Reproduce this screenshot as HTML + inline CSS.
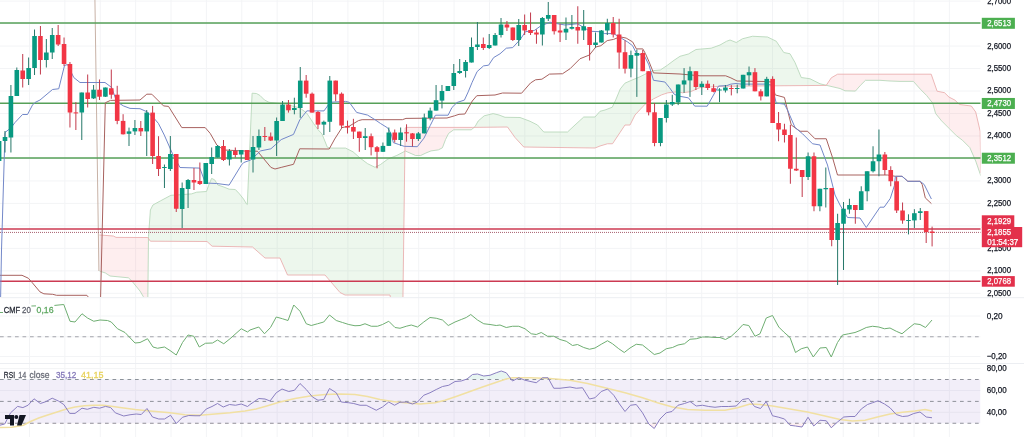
<!DOCTYPE html><html><head><meta charset="utf-8"><title>Chart</title><style>html,body{margin:0;padding:0;background:#fff;overflow:hidden}</style></head><body><svg width="1024" height="437" viewBox="0 0 1024 437" style="display:block">
<defs><clipPath id="cm"><rect x="0" y="0" width="980.50" height="297.00"/></clipPath>
<clipPath id="cc"><rect x="0" y="297.5" width="980.50" height="66"/></clipPath>
<clipPath id="cr"><rect x="0" y="364" width="980.50" height="73"/></clipPath></defs>
<rect width="1024" height="437" fill="#fff"/>
<path d="M29.50 0V437 M64.88 0V437 M100.26 0V437 M135.64 0V437 M171.02 0V437 M206.40 0V437 M241.78 0V437 M277.16 0V437 M312.54 0V437 M347.92 0V437 M383.30 0V437 M418.68 0V437 M454.06 0V437 M489.44 0V437 M524.82 0V437 M560.20 0V437 M595.58 0V437 M630.96 0V437 M666.34 0V437 M701.72 0V437 M737.10 0V437 M772.48 0V437 M807.86 0V437 M843.24 0V437 M878.62 0V437 M914.00 0V437 M949.38 0V437 M0 1.10H980.5 M0 23.58H980.5 M0 46.06H980.5 M0 68.54H980.5 M0 91.02H980.5 M0 113.50H980.5 M0 135.98H980.5 M0 158.46H980.5 M0 180.94H980.5 M0 203.42H980.5 M0 225.90H980.5 M0 248.38H980.5 M0 270.86H980.5 M0 293.34H980.5 M0 316.00H980.5 M0 336.75H980.5 M0 356.50H980.5 M0 368.60H980.5 M0 390.50H980.5 M0 412.30H980.5" stroke="#f3f4f6" stroke-width="1" fill="none"/>
<g clip-path="url(#cm)">
<polygon points="99.50,271.00 99.75,271.08 100.00,271.17 100.25,271.25 100.50,271.34 100.75,271.42 101.00,271.51 101.25,271.59 101.50,271.68 101.75,271.76 102.00,271.85 102.25,271.93 102.50,272.02 102.75,272.10 103.00,272.19 103.25,272.27 103.50,272.36 103.75,272.44 104.00,272.53 104.25,272.61 104.50,272.69 104.75,272.78 105.00,272.86 105.25,272.95 105.50,273.07 105.75,273.23 106.00,273.39 106.25,273.55 106.50,273.72 106.75,273.88 107.00,274.04 107.25,274.21 107.50,274.37 107.75,274.53 108.00,274.70 108.25,274.86 108.50,275.02 108.75,275.18 109.00,275.35 109.25,275.51 109.50,275.67 109.75,275.84 110.00,276.00 110.25,276.02 110.50,276.05 110.75,276.07 111.00,276.10 111.25,276.12 111.50,276.15 111.75,276.17 112.00,276.20 112.25,276.22 112.50,276.24 112.75,276.27 113.00,276.29 113.25,276.32 113.50,276.34 113.75,276.37 114.00,276.39 114.25,276.42 114.50,276.44 114.75,276.46 115.00,276.49 115.25,276.51 115.50,276.54 115.75,276.56 116.00,276.59 116.25,276.61 116.50,276.64 116.75,276.66 117.00,276.68 117.25,276.71 117.50,276.73 117.75,276.76 118.00,276.78 118.25,276.81 118.50,276.83 118.75,276.86 119.00,276.88 119.25,276.90 119.50,276.93 119.75,276.95 120.00,276.98 120.25,277.00 120.50,277.03 120.75,277.05 121.00,277.08 121.25,277.10 121.50,277.12 121.75,277.15 122.00,277.17 122.25,277.20 122.50,277.22 122.75,277.25 123.00,277.27 123.25,277.30 123.50,277.32 123.75,277.35 124.00,277.37 124.25,277.39 124.50,277.42 124.75,277.44 125.00,277.47 125.25,277.49 125.50,277.52 125.75,277.54 126.00,277.57 126.25,277.59 126.50,277.61 126.75,277.64 127.00,277.66 127.25,277.69 127.50,277.71 127.75,277.74 128.00,277.76 128.25,277.79 128.50,277.89 128.75,278.13 129.00,278.36 129.25,278.60 129.50,278.84 129.75,279.07 130.00,279.31 130.25,279.54 130.50,279.78 130.75,280.01 131.00,280.25 131.25,280.48 131.50,280.72 131.75,280.95 132.00,281.24 132.25,281.55 132.50,281.85 132.75,282.16 133.00,282.46 133.25,282.77 133.50,283.07 133.75,283.38 134.00,283.68 134.25,283.99 134.50,284.29 134.75,284.60 135.00,284.90 135.25,285.21 135.50,285.51 135.75,285.82 136.00,286.12 136.25,286.43 136.50,286.73 136.75,287.04 137.00,287.34 137.25,287.65 137.50,287.95 137.75,288.26 138.00,288.56 138.25,288.87 138.50,289.17 138.75,289.48 139.00,289.78 139.25,290.09 139.50,290.39 139.75,290.70 140.00,291.00 140.25,291.42 140.50,291.84 140.75,292.27 141.00,292.69 141.25,293.11 141.50,293.53 141.75,293.95 142.00,294.38 142.25,294.80 142.50,295.22 142.75,295.64 143.00,296.06 143.25,296.50 143.50,297.00 143.75,297.50 144.00,298.00 144.25,298.50 144.50,299.00 144.75,299.50 145.00,300.00 145.25,303.00 145.50,306.00 145.75,309.00 146.00,312.00 146.25,315.00 146.50,318.00 146.75,321.00 147.00,324.00 147.25,327.00 147.50,330.00 147.75,306.62 148.00,283.25 148.25,259.88 148.50,236.50 148.50,238.60 148.25,238.25 148.00,237.91 147.75,237.57 147.50,237.50 147.25,237.50 147.00,237.50 146.75,237.50 146.50,237.50 146.25,237.50 146.00,237.49 145.75,237.49 145.50,237.49 145.25,237.49 145.00,237.49 144.75,237.49 144.50,237.49 144.25,237.49 144.00,237.49 143.75,237.49 143.50,237.49 143.25,237.49 143.00,237.49 142.75,237.48 142.50,237.48 142.25,237.48 142.00,237.48 141.75,237.48 141.50,237.48 141.25,237.48 141.00,237.48 140.75,237.48 140.50,237.48 140.25,237.48 140.00,237.48 139.75,237.47 139.50,237.47 139.25,237.47 139.00,237.47 138.75,237.47 138.50,237.47 138.25,237.47 138.00,237.47 137.75,237.47 137.50,237.47 137.25,237.47 137.00,237.47 136.75,237.47 136.50,237.46 136.25,237.46 136.00,237.46 135.75,237.46 135.50,237.46 135.25,237.46 135.00,237.46 134.75,237.46 134.50,237.46 134.25,237.46 134.00,237.46 133.75,237.46 133.50,237.46 133.25,237.45 133.00,237.45 132.75,237.45 132.50,237.45 132.25,237.45 132.00,237.45 131.75,237.45 131.50,237.45 131.25,237.45 131.00,237.45 130.75,237.45 130.50,237.45 130.25,237.44 130.00,237.44 129.75,237.44 129.50,237.44 129.25,237.44 129.00,237.44 128.75,237.44 128.50,237.44 128.25,237.44 128.00,237.44 127.75,237.44 127.50,237.44 127.25,237.44 127.00,237.43 126.75,237.43 126.50,237.43 126.25,237.43 126.00,237.43 125.75,237.43 125.50,237.43 125.25,237.43 125.00,237.43 124.75,237.43 124.50,237.43 124.25,237.43 124.00,237.43 123.75,237.42 123.50,237.42 123.25,237.42 123.00,237.42 122.75,237.42 122.50,237.42 122.25,237.42 122.00,237.42 121.75,237.42 121.50,237.42 121.25,237.42 121.00,237.42 120.75,237.41 120.50,237.41 120.25,237.41 120.00,237.41 119.75,237.41 119.50,237.41 119.25,237.41 119.00,237.41 118.75,237.41 118.50,237.41 118.25,237.41 118.00,237.41 117.75,237.41 117.50,237.40 117.25,237.40 117.00,237.40 116.75,237.40 116.50,237.40 116.25,237.40 116.00,237.40 115.75,237.27 115.50,237.13 115.25,237.00 115.00,236.86 114.75,236.73 114.50,236.59 114.25,236.46 114.00,236.32 113.75,236.19 113.50,236.05 113.25,235.99 113.00,235.97 112.75,235.95 112.50,235.94 112.25,235.92 112.00,235.90 111.75,235.88 111.50,235.86 111.25,235.85 111.00,235.83 110.75,235.81 110.50,235.79 110.25,235.77 110.00,235.76 109.75,235.74 109.50,235.72 109.25,235.70 109.00,235.68 108.75,235.67 108.50,235.65 108.25,235.63 108.00,235.61 107.75,235.59 107.50,235.58 107.25,235.56 107.00,235.54 106.75,235.52 106.50,235.50 106.25,235.49 106.00,235.47 105.75,235.45 105.50,235.43 105.25,235.41 105.00,235.40 104.75,235.38 104.50,235.36 104.25,235.34 104.00,235.32 103.75,235.31 103.50,235.29 103.25,235.27 103.00,235.25 102.75,235.23 102.50,235.22 102.25,235.20 102.00,235.18 101.75,235.16 101.50,235.14 101.25,235.13 101.00,235.11 100.75,235.09 100.50,235.07 100.25,235.05 100.00,235.04 99.75,235.02 99.50,235.00" fill="rgba(242,54,69,0.085)"/>
<polygon points="148.50,236.50 148.75,233.01 149.00,229.53 149.25,226.04 149.50,222.55 149.75,219.07 150.00,215.58 150.25,212.09 150.50,209.80 150.75,209.30 151.00,208.80 151.25,208.30 151.50,207.80 151.75,207.30 152.00,206.80 152.25,206.30 152.50,205.80 152.75,205.30 153.00,204.95 153.25,204.81 153.50,204.67 153.75,204.54 154.00,204.40 154.25,204.26 154.50,204.13 154.75,203.99 155.00,203.85 155.25,203.72 155.50,203.58 155.75,203.45 156.00,203.31 156.25,203.17 156.50,203.04 156.75,202.90 157.00,202.76 157.25,202.63 157.50,202.49 157.75,202.35 158.00,202.22 158.25,202.08 158.50,201.95 158.75,201.81 159.00,201.67 159.25,201.54 159.50,201.40 159.75,201.26 160.00,201.13 160.25,200.99 160.50,200.85 160.75,200.72 161.00,200.59 161.25,200.45 161.50,200.32 161.75,200.19 162.00,200.05 162.25,199.92 162.50,199.79 162.75,199.65 163.00,199.52 163.25,199.38 163.50,199.25 163.75,199.12 164.00,198.98 164.25,198.85 164.50,198.72 164.75,198.58 165.00,198.45 165.25,198.32 165.50,198.18 165.75,198.05 166.00,197.92 166.25,197.78 166.50,197.65 166.75,197.52 167.00,197.38 167.25,197.25 167.50,197.12 167.75,196.98 168.00,196.85 168.25,196.72 168.50,196.58 168.75,196.45 169.00,196.31 169.25,196.18 169.50,196.05 169.75,195.91 170.00,195.78 170.25,195.65 170.50,195.51 170.75,195.38 171.00,195.29 171.25,195.28 171.50,195.27 171.75,195.25 172.00,195.24 172.25,195.22 172.50,195.21 172.75,195.19 173.00,195.18 173.25,195.16 173.50,195.15 173.75,195.13 174.00,195.12 174.25,195.10 174.50,195.09 174.75,195.08 175.00,195.06 175.25,195.05 175.50,195.03 175.75,195.02 176.00,195.00 176.25,194.99 176.50,194.97 176.75,194.96 177.00,194.94 177.25,194.93 177.50,194.92 177.75,194.90 178.00,194.89 178.25,194.87 178.50,194.86 178.75,194.84 179.00,194.83 179.25,194.81 179.50,194.80 179.75,194.78 180.00,194.77 180.25,194.76 180.50,194.74 180.75,194.73 181.00,194.71 181.25,194.70 181.50,194.68 181.75,194.66 182.00,194.64 182.25,194.62 182.50,194.60 182.75,194.58 183.00,194.56 183.25,194.54 183.50,194.52 183.75,194.50 184.00,194.48 184.25,194.46 184.50,194.44 184.75,194.42 185.00,194.40 185.25,194.39 185.50,194.37 185.75,194.35 186.00,194.33 186.25,194.31 186.50,194.29 186.75,194.27 187.00,194.25 187.25,194.23 187.50,194.21 187.75,194.19 188.00,194.17 188.25,194.15 188.50,194.13 188.75,194.11 189.00,194.09 189.25,194.07 189.50,194.06 189.75,194.04 190.00,194.02 190.25,194.00 190.50,193.98 190.75,193.96 191.00,193.94 191.25,193.92 191.50,193.90 191.75,193.82 192.00,193.74 192.25,193.65 192.50,193.57 192.75,193.49 193.00,193.41 193.25,193.33 193.50,193.25 193.75,193.16 194.00,193.08 194.25,193.00 194.50,192.92 194.75,192.84 195.00,192.76 195.25,192.67 195.50,192.59 195.75,192.51 196.00,192.43 196.25,192.35 196.50,192.27 196.75,192.20 197.00,192.18 197.25,192.16 197.50,192.14 197.75,192.12 198.00,192.11 198.25,192.09 198.50,192.07 198.75,192.05 199.00,192.04 199.25,192.02 199.50,192.00 199.75,191.98 200.00,191.96 200.25,191.95 200.50,191.93 200.75,191.91 201.00,191.89 201.25,191.88 201.50,191.86 201.75,191.84 202.00,191.82 202.25,191.80 202.50,191.79 202.75,191.77 203.00,191.75 203.25,191.73 203.50,191.71 203.75,191.70 204.00,191.68 204.25,191.66 204.50,191.64 204.75,191.62 205.00,191.61 205.25,191.59 205.50,191.57 205.75,191.55 206.00,191.54 206.25,191.52 206.50,191.50 206.75,190.76 207.00,190.03 207.25,189.29 207.50,188.55 207.75,187.81 208.00,187.07 208.25,186.34 208.50,185.60 208.75,185.02 209.00,184.44 209.25,183.86 209.50,183.28 209.75,182.70 210.00,182.12 210.25,181.54 210.50,180.95 210.75,180.37 211.00,179.79 211.25,179.21 211.50,178.63 211.75,178.47 212.00,178.59 212.25,178.71 212.50,178.84 212.75,178.96 213.00,179.08 213.25,179.20 213.50,179.32 213.75,179.44 214.00,179.56 214.25,179.68 214.50,179.80 214.75,179.98 215.00,180.39 215.25,180.80 215.50,181.22 215.75,181.63 216.00,182.04 216.25,182.45 216.50,182.86 216.75,183.27 217.00,183.68 217.25,184.10 217.50,184.51 217.75,184.92 218.00,185.07 218.25,185.15 218.50,185.24 218.75,185.32 219.00,185.41 219.25,185.49 219.50,185.58 219.75,185.66 220.00,185.75 220.25,185.83 220.50,185.91 220.75,186.00 221.00,186.08 221.25,186.17 221.50,186.25 221.75,186.34 222.00,186.42 222.25,186.51 222.50,186.59 222.75,186.68 223.00,186.76 223.25,186.85 223.50,186.93 223.75,187.02 224.00,187.10 224.25,187.20 224.50,187.31 224.75,187.41 225.00,187.51 225.25,187.61 225.50,187.72 225.75,187.82 226.00,187.92 226.25,188.03 226.50,188.13 226.75,188.23 227.00,188.34 227.25,188.44 227.50,188.54 227.75,188.64 228.00,188.75 228.25,188.85 228.50,188.95 228.75,189.06 229.00,189.16 229.25,189.21 229.50,189.22 229.75,189.23 230.00,189.24 230.25,189.26 230.50,189.27 230.75,189.28 231.00,189.29 231.25,189.30 231.50,189.32 231.75,189.33 232.00,189.34 232.25,189.35 232.50,189.36 232.75,189.38 233.00,189.39 233.25,189.40 233.50,189.41 233.75,189.42 234.00,189.44 234.25,189.45 234.50,189.46 234.75,189.47 235.00,189.49 235.25,189.50 235.50,189.71 235.75,189.97 236.00,190.23 236.25,190.50 236.50,190.76 236.75,191.02 237.00,191.28 237.25,191.55 237.50,191.81 237.75,192.07 238.00,192.33 238.25,192.59 238.50,192.86 238.75,193.12 239.00,193.38 239.25,193.64 239.50,193.93 239.75,194.24 240.00,194.56 240.25,194.88 240.50,195.20 240.75,195.51 241.00,195.83 241.25,196.15 241.50,196.46 241.75,196.78 242.00,197.10 242.25,197.41 242.50,197.73 242.75,198.05 243.00,198.37 243.25,198.68 243.50,199.00 243.75,199.41 244.00,199.82 244.25,200.23 244.50,200.65 244.75,201.06 245.00,201.47 245.25,201.88 245.50,202.29 245.75,202.70 246.00,203.11 246.25,203.52 246.50,203.94 246.75,204.19 247.00,204.33 247.25,204.47 247.50,199.86 247.75,194.07 248.00,188.27 248.25,182.47 248.50,176.68 248.75,170.88 249.00,165.08 249.25,159.28 249.50,153.49 249.75,147.69 250.00,141.89 250.25,136.10 250.50,130.30 250.75,124.50 251.00,118.71 251.25,112.91 251.50,107.11 251.75,101.32 252.00,95.52 252.25,93.21 252.50,93.23 252.75,93.25 253.00,93.26 253.25,93.28 253.50,93.30 253.75,93.32 254.00,93.33 254.25,93.35 254.50,93.37 254.75,93.38 255.00,93.40 255.25,93.42 255.50,93.44 255.75,93.45 256.00,93.47 256.25,93.49 256.50,93.55 256.75,93.69 257.00,93.83 257.25,93.96 257.50,94.10 257.75,94.23 258.00,94.37 258.25,94.50 258.50,94.64 258.75,94.78 259.00,94.91 259.25,95.05 259.50,95.18 259.75,95.32 260.00,95.50 260.25,95.75 260.50,96.00 260.75,96.25 261.00,96.50 261.25,96.75 261.50,97.00 261.75,97.25 262.00,97.50 262.25,97.75 262.50,98.00 262.75,98.25 263.00,98.50 263.25,98.75 263.50,99.00 263.75,99.25 264.00,99.50 264.25,99.75 264.50,100.00 264.75,100.13 265.00,100.26 265.25,100.38 265.50,100.51 265.75,100.64 266.00,100.77 266.25,100.89 266.50,101.02 266.75,101.15 267.00,101.28 267.25,101.41 267.50,101.53 267.75,101.66 268.00,101.79 268.25,101.92 268.50,102.04 268.75,102.17 269.00,102.30 269.25,102.33 269.50,102.35 269.75,102.38 270.00,102.41 270.25,102.43 270.50,102.46 270.75,102.49 271.00,102.51 271.25,102.54 271.50,102.57 271.75,102.59 272.00,102.62 272.25,102.65 272.50,102.67 272.75,102.70 273.00,102.72 273.25,102.75 273.50,102.78 273.75,102.80 274.00,102.83 274.25,102.86 274.50,102.88 274.75,102.91 275.00,102.94 275.25,102.96 275.50,102.99 275.75,103.02 276.00,103.04 276.25,103.07 276.50,103.10 276.75,103.12 277.00,103.15 277.25,103.18 277.50,103.20 277.75,103.23 278.00,103.26 278.25,103.28 278.50,103.31 278.75,103.34 279.00,103.36 279.25,103.39 279.50,103.42 279.75,103.44 280.00,103.47 280.25,103.50 280.50,103.52 280.75,103.55 281.00,103.58 281.25,103.60 281.50,103.63 281.75,103.65 282.00,103.68 282.25,103.71 282.50,103.73 282.75,103.76 283.00,103.79 283.25,103.81 283.50,103.84 283.75,103.87 284.00,103.89 284.25,103.92 284.50,103.95 284.75,103.97 285.00,104.00 285.25,104.07 285.50,104.13 285.75,104.20 286.00,104.27 286.25,104.33 286.50,104.40 286.75,104.47 287.00,104.53 287.25,104.60 287.50,104.67 287.75,104.73 288.00,104.80 288.25,104.87 288.50,104.93 288.75,105.00 289.00,105.07 289.25,105.13 289.50,105.20 289.75,105.27 290.00,105.33 290.25,105.40 290.50,105.47 290.75,105.53 291.00,105.60 291.25,105.67 291.50,105.73 291.75,105.80 292.00,105.87 292.25,105.93 292.50,106.00 292.75,106.07 293.00,106.13 293.25,106.20 293.50,106.27 293.75,106.33 294.00,106.40 294.25,106.47 294.50,106.53 294.75,106.60 295.00,106.67 295.25,106.73 295.50,106.80 295.75,106.87 296.00,106.93 296.25,107.00 296.50,107.07 296.75,107.13 297.00,107.20 297.25,107.27 297.50,107.33 297.75,107.40 298.00,107.47 298.25,107.53 298.50,107.60 298.75,107.67 299.00,107.73 299.25,107.80 299.50,107.87 299.75,107.93 300.00,108.00 300.25,108.19 300.50,108.38 300.75,108.57 301.00,108.76 301.25,108.96 301.50,109.15 301.75,109.34 302.00,109.53 302.25,109.72 302.50,109.91 302.75,110.10 303.00,110.29 303.25,110.49 303.50,110.68 303.75,110.87 304.00,111.06 304.25,111.25 304.50,111.44 304.75,111.63 305.00,111.82 305.25,112.01 305.50,112.21 305.75,112.40 306.00,112.59 306.25,112.78 306.50,112.97 306.75,113.16 307.00,113.50 307.25,113.88 307.50,114.26 307.75,114.64 308.00,115.02 308.25,115.40 308.50,115.77 308.75,116.15 309.00,116.53 309.25,116.91 309.50,117.29 309.75,117.67 310.00,118.05 310.25,118.43 310.50,118.80 310.75,119.18 311.00,119.56 311.25,119.94 311.50,120.32 311.75,120.70 312.00,121.08 312.25,121.46 312.50,121.83 312.75,122.21 313.00,122.59 313.25,122.97 313.50,123.35 313.75,123.71 314.00,124.06 314.25,124.40 314.50,124.75 314.75,125.10 315.00,125.45 315.25,125.80 315.50,126.14 315.75,126.49 316.00,126.84 316.25,127.19 316.50,127.53 316.75,127.88 317.00,128.23 317.25,128.58 317.50,128.93 317.75,129.27 318.00,129.62 318.25,129.95 318.50,130.22 318.75,130.49 319.00,130.76 319.25,131.03 319.50,131.30 319.75,131.57 320.00,131.84 320.25,132.11 320.50,132.38 320.75,132.65 321.00,132.92 321.25,133.19 321.50,133.46 321.75,133.73 322.00,134.00 322.25,134.62 322.50,135.25 322.75,135.87 323.00,136.49 323.25,137.11 323.50,137.74 323.75,138.36 324.00,138.98 324.25,139.60 324.50,140.23 324.75,140.85 325.00,141.47 325.25,142.09 325.50,142.72 325.75,143.34 326.00,143.96 326.25,144.58 326.50,145.21 326.75,145.83 327.00,146.45 327.25,147.08 327.50,147.25 327.75,147.31 328.00,147.37 328.25,147.43 328.50,147.49 328.75,147.55 329.00,147.61 329.25,147.67 329.50,147.74 329.75,147.80 330.00,147.86 330.25,147.92 330.50,147.98 330.75,148.04 331.00,148.10 331.25,148.10 331.50,148.10 331.75,148.10 332.00,148.10 332.25,148.10 332.50,148.10 332.75,148.10 333.00,148.10 333.25,148.10 333.50,148.10 333.75,148.10 334.00,148.10 334.25,148.10 334.50,148.10 334.75,148.10 335.00,148.10 335.25,148.10 335.50,148.10 335.75,148.10 336.00,148.10 336.25,148.10 336.50,148.10 336.75,148.10 337.00,148.10 337.25,148.10 337.50,148.10 337.75,148.10 338.00,148.10 338.25,148.10 338.50,148.10 338.75,148.10 339.00,148.10 339.25,148.10 339.50,148.10 339.75,148.10 340.00,148.10 340.25,148.10 340.50,148.10 340.75,148.10 341.00,148.10 341.25,148.10 341.50,148.10 341.75,148.10 342.00,148.10 342.25,148.10 342.50,148.10 342.75,148.10 343.00,148.10 343.25,148.10 343.50,148.10 343.75,148.10 344.00,148.10 344.25,148.10 344.50,148.10 344.75,148.10 345.00,148.10 345.25,148.10 345.50,148.10 345.75,148.17 346.00,148.30 346.25,148.42 346.50,148.55 346.75,148.67 347.00,148.80 347.25,148.92 347.50,149.05 347.75,149.17 348.00,149.30 348.25,149.42 348.50,149.55 348.75,149.67 349.00,149.80 349.25,149.92 349.50,150.05 349.75,150.18 350.00,150.30 350.25,150.43 350.50,150.55 350.75,150.68 351.00,150.80 351.25,150.93 351.50,151.05 351.75,151.18 352.00,151.30 352.25,151.43 352.50,151.55 352.75,151.68 353.00,151.80 353.25,152.02 353.50,152.24 353.75,152.46 354.00,152.68 354.25,152.90 354.50,153.12 354.75,153.33 355.00,153.55 355.25,153.77 355.50,153.99 355.75,154.21 356.00,154.43 356.25,154.65 356.50,154.87 356.75,155.09 357.00,155.31 357.25,155.53 357.50,155.75 357.75,155.96 358.00,156.18 358.25,156.40 358.50,156.62 358.75,156.84 359.00,157.06 359.25,157.28 359.50,157.50 359.75,157.72 360.00,157.94 360.25,158.16 360.50,158.35 360.75,158.54 361.00,158.73 361.25,158.92 361.50,159.10 361.75,159.29 362.00,159.48 362.25,159.67 362.50,159.86 362.75,160.05 363.00,160.23 363.25,160.42 363.50,160.61 363.75,160.80 364.00,160.99 364.25,161.18 364.50,161.36 364.75,161.55 365.00,161.74 365.25,161.93 365.50,162.12 365.75,162.31 366.00,162.49 366.25,162.68 366.50,162.87 366.75,163.06 367.00,163.25 367.25,163.44 367.50,163.62 367.75,163.77 368.00,163.89 368.25,164.02 368.50,164.14 368.75,164.26 369.00,164.38 369.25,164.50 369.50,164.62 369.75,164.75 370.00,164.87 370.25,164.99 370.50,165.11 370.75,165.23 371.00,165.35 371.25,165.48 371.50,165.60 371.75,165.72 372.00,165.84 372.25,165.96 372.50,166.08 372.75,166.21 373.00,166.33 373.25,166.45 373.50,166.57 373.75,166.69 374.00,166.81 374.25,166.94 374.50,167.06 374.75,167.18 375.00,167.30 375.25,167.18 375.50,167.05 375.75,166.93 376.00,166.80 376.25,166.68 376.50,166.55 376.75,166.43 377.00,166.30 377.25,166.18 377.50,166.05 377.75,165.92 378.00,165.80 378.25,165.67 378.50,165.55 378.75,165.42 379.00,165.30 379.25,165.17 379.50,165.05 379.75,164.92 380.00,164.80 380.25,164.67 380.50,164.53 380.75,164.34 381.00,164.15 381.25,163.97 381.50,163.78 381.75,163.60 382.00,163.41 382.25,163.22 382.50,163.04 382.75,162.85 383.00,162.67 383.25,162.48 383.50,162.30 383.75,162.11 384.00,161.92 384.25,161.74 384.50,161.55 384.75,161.37 385.00,161.18 385.25,161.00 385.50,160.81 385.75,160.62 386.00,160.44 386.25,160.25 386.50,160.07 386.75,159.88 387.00,159.69 387.25,159.51 387.50,159.32 387.75,159.14 388.00,159.02 388.25,158.92 388.50,158.82 388.75,158.71 389.00,158.61 389.25,158.51 389.50,158.41 389.75,158.31 390.00,158.21 390.25,158.10 390.50,158.00 390.75,157.90 391.00,157.80 391.25,157.70 391.50,157.60 391.75,157.49 392.00,157.39 392.25,157.29 392.50,157.19 392.75,157.09 393.00,156.99 393.25,156.88 393.50,156.78 393.75,156.68 394.00,156.58 394.25,156.48 394.50,156.38 394.75,156.27 395.00,156.17 395.25,156.07 395.50,155.97 395.75,155.87 396.00,155.77 396.25,155.66 396.50,155.56 396.75,155.46 397.00,155.35 397.25,155.22 397.50,155.09 397.75,154.95 398.00,154.82 398.25,154.69 398.50,154.56 398.75,154.43 399.00,154.30 399.25,154.17 399.50,154.04 399.75,153.91 400.00,153.78 400.25,153.65 400.50,153.51 400.75,153.38 401.00,153.25 401.25,153.12 401.50,152.99 401.75,152.86 402.00,152.73 402.25,152.60 402.50,152.47 402.75,152.34 403.00,152.20 403.25,152.07 403.50,151.94 403.75,151.81 404.00,151.68 404.25,151.55 404.50,151.42 404.75,151.29 405.00,151.16 405.00,142.96 404.75,161.67 404.50,180.37 404.25,199.07 404.00,217.78 403.75,236.48 403.50,255.19 403.25,273.89 403.00,292.59 402.75,311.30 402.50,330.00 402.25,330.00 402.00,330.00 401.75,330.00 401.50,330.00 401.25,330.00 401.00,330.00 400.75,330.00 400.50,330.00 400.25,330.00 400.00,330.00 399.75,330.00 399.50,330.00 399.25,330.00 399.00,330.00 398.75,330.00 398.50,330.00 398.25,330.00 398.00,330.00 397.75,330.00 397.50,330.00 397.25,330.00 397.00,330.00 396.75,330.00 396.50,330.00 396.25,330.00 396.00,330.00 395.75,328.54 395.50,327.08 395.25,325.62 395.00,324.17 394.75,322.71 394.50,321.25 394.25,319.79 394.00,318.33 393.75,316.88 393.50,315.42 393.25,313.96 393.00,312.50 392.75,311.04 392.50,309.58 392.25,308.12 392.00,306.67 391.75,305.21 391.50,303.75 391.25,302.29 391.00,300.83 390.75,299.38 390.50,297.92 390.25,296.46 390.00,295.00 389.75,295.00 389.50,295.00 389.25,295.00 389.00,295.00 388.75,295.00 388.50,295.00 388.25,295.00 388.00,295.00 387.75,295.00 387.50,295.00 387.25,295.00 387.00,295.00 386.75,295.00 386.50,295.00 386.25,295.00 386.00,295.00 385.75,295.00 385.50,295.00 385.25,295.00 385.00,295.00 384.75,295.00 384.50,295.00 384.25,295.00 384.00,295.00 383.75,295.00 383.50,295.00 383.25,295.00 383.00,295.00 382.75,295.00 382.50,295.00 382.25,295.00 382.00,295.00 381.75,295.00 381.50,295.00 381.25,295.00 381.00,295.00 380.75,295.00 380.50,295.00 380.25,295.00 380.00,295.00 379.75,295.00 379.50,295.00 379.25,295.00 379.00,295.00 378.75,295.00 378.50,295.00 378.25,295.00 378.00,295.00 377.75,295.00 377.50,295.00 377.25,295.00 377.00,295.00 376.75,295.00 376.50,295.00 376.25,295.00 376.00,295.00 375.75,295.00 375.50,295.00 375.25,295.00 375.00,295.00 374.75,295.00 374.50,295.00 374.25,295.00 374.00,295.00 373.75,295.00 373.50,295.00 373.25,295.00 373.00,295.00 372.75,295.00 372.50,295.00 372.25,295.00 372.00,295.00 371.75,295.00 371.50,295.00 371.25,295.00 371.00,295.00 370.75,295.00 370.50,295.00 370.25,295.00 370.00,295.00 369.75,295.00 369.50,295.00 369.25,295.00 369.00,295.00 368.75,295.00 368.50,295.00 368.25,295.00 368.00,295.00 367.75,295.00 367.50,295.00 367.25,295.00 367.00,295.00 366.75,295.00 366.50,295.00 366.25,295.00 366.00,295.00 365.75,295.00 365.50,295.00 365.25,295.00 365.00,295.00 364.75,295.00 364.50,295.00 364.25,295.00 364.00,295.00 363.75,295.00 363.50,295.00 363.25,295.00 363.00,295.00 362.75,295.00 362.50,295.00 362.25,295.00 362.00,295.00 361.75,295.00 361.50,295.00 361.25,295.00 361.00,295.00 360.75,295.00 360.50,295.00 360.25,295.00 360.00,295.00 359.75,295.00 359.50,295.00 359.25,295.00 359.00,295.00 358.75,295.00 358.50,295.00 358.25,295.00 358.00,295.00 357.75,295.00 357.50,295.00 357.25,295.00 357.00,295.00 356.75,295.00 356.50,295.00 356.25,295.00 356.00,295.00 355.75,295.00 355.50,295.00 355.25,295.00 355.00,295.00 354.75,295.00 354.50,295.00 354.25,295.00 354.00,295.00 353.75,295.00 353.50,295.00 353.25,295.00 353.00,295.00 352.75,295.00 352.50,295.00 352.25,295.00 352.00,295.00 351.75,295.00 351.50,295.00 351.25,295.00 351.00,295.00 350.75,295.00 350.50,295.00 350.25,295.00 350.00,295.00 349.75,295.00 349.50,295.00 349.25,295.00 349.00,295.00 348.75,295.00 348.50,295.00 348.25,295.00 348.00,295.00 347.75,295.00 347.50,295.00 347.25,295.00 347.00,295.00 346.75,295.00 346.50,295.00 346.25,295.00 346.00,295.00 345.75,295.00 345.50,295.00 345.25,295.00 345.00,295.00 344.75,294.88 344.50,294.75 344.25,294.62 344.00,294.50 343.75,294.38 343.50,294.25 343.25,294.12 343.00,294.00 342.75,293.88 342.50,293.75 342.25,293.62 342.00,293.50 341.75,293.38 341.50,293.25 341.25,293.12 341.00,293.00 340.75,292.88 340.50,292.75 340.25,292.62 340.00,292.50 339.75,292.21 339.50,291.92 339.25,291.62 339.00,291.33 338.75,291.04 338.50,290.75 338.25,290.46 338.00,290.17 337.75,289.88 337.50,289.58 337.25,289.29 337.00,289.00 336.75,288.71 336.50,288.42 336.25,288.12 336.00,287.83 335.75,287.54 335.50,287.25 335.25,286.96 335.00,286.67 334.75,286.38 334.50,286.08 334.25,285.79 334.00,285.50 333.75,285.21 333.50,284.92 333.25,284.62 333.00,284.33 332.75,284.04 332.50,283.75 332.25,283.46 332.00,283.17 331.75,282.88 331.50,282.58 331.25,282.29 331.00,282.00 330.75,281.71 330.50,281.42 330.25,281.12 330.00,280.83 329.75,280.54 329.50,280.25 329.25,279.96 329.00,279.67 328.75,279.38 328.50,279.08 328.25,278.79 328.00,278.50 327.75,278.21 327.50,277.92 327.25,277.62 327.00,277.33 326.75,277.04 326.50,276.75 326.25,276.46 326.00,276.17 325.75,275.88 325.50,275.58 325.25,275.29 325.00,275.00 324.75,275.00 324.50,275.00 324.25,275.00 324.00,275.00 323.75,275.00 323.50,275.00 323.25,275.00 323.00,275.00 322.75,275.00 322.50,275.00 322.25,275.00 322.00,275.00 321.75,275.00 321.50,275.00 321.25,275.00 321.00,275.00 320.75,275.00 320.50,275.00 320.25,275.00 320.00,275.00 319.75,275.00 319.50,275.00 319.25,275.00 319.00,275.00 318.75,275.00 318.50,275.00 318.25,275.00 318.00,275.00 317.75,275.00 317.50,275.00 317.25,275.00 317.00,275.00 316.75,275.00 316.50,275.00 316.25,275.00 316.00,275.00 315.75,275.00 315.50,275.00 315.25,275.00 315.00,275.00 314.75,275.00 314.50,275.00 314.25,275.00 314.00,275.00 313.75,275.00 313.50,275.00 313.25,275.00 313.00,275.00 312.75,275.00 312.50,275.00 312.25,275.00 312.00,275.00 311.75,275.00 311.50,275.00 311.25,275.00 311.00,275.00 310.75,275.00 310.50,275.00 310.25,275.00 310.00,275.00 309.75,275.00 309.50,275.00 309.25,275.00 309.00,275.00 308.75,275.00 308.50,275.00 308.25,275.00 308.00,275.00 307.75,275.00 307.50,275.00 307.25,275.00 307.00,275.00 306.75,275.00 306.50,275.00 306.25,275.00 306.00,275.00 305.75,275.00 305.50,275.00 305.25,275.00 305.00,275.00 304.75,275.00 304.50,275.00 304.25,275.00 304.00,275.00 303.75,275.00 303.50,275.00 303.25,275.00 303.00,275.00 302.75,275.00 302.50,275.00 302.25,275.00 302.00,275.00 301.75,275.00 301.50,275.00 301.25,275.00 301.00,275.00 300.75,275.00 300.50,275.00 300.25,275.00 300.00,275.00 299.75,275.00 299.50,275.00 299.25,275.00 299.00,275.00 298.75,275.00 298.50,275.00 298.25,275.00 298.00,275.00 297.75,275.00 297.50,275.00 297.25,275.00 297.00,275.00 296.75,275.00 296.50,275.00 296.25,275.00 296.00,275.00 295.75,275.00 295.50,275.00 295.25,275.00 295.00,275.00 294.75,275.00 294.50,275.00 294.25,275.00 294.00,275.00 293.75,275.00 293.50,275.00 293.25,275.00 293.00,275.00 292.75,275.00 292.50,275.00 292.25,275.00 292.00,275.00 291.75,275.00 291.50,275.00 291.25,275.00 291.00,275.00 290.75,275.00 290.50,275.00 290.25,275.00 290.00,275.00 289.75,275.00 289.50,275.00 289.25,275.00 289.00,275.00 288.75,275.00 288.50,275.00 288.25,275.00 288.00,275.00 287.75,275.00 287.50,275.00 287.25,274.43 287.00,273.87 286.75,273.30 286.50,272.73 286.25,272.17 286.00,271.60 285.75,271.03 285.50,270.47 285.25,269.90 285.00,269.33 284.75,268.77 284.50,268.20 284.25,267.63 284.00,267.07 283.75,266.50 283.50,265.93 283.25,265.37 283.00,264.80 282.75,264.23 282.50,263.67 282.25,263.10 282.00,262.53 281.75,261.97 281.50,261.40 281.25,260.83 281.00,260.27 280.75,259.70 280.50,259.13 280.25,258.57 280.00,258.00 279.75,258.00 279.50,258.00 279.25,258.00 279.00,258.00 278.75,258.00 278.50,258.00 278.25,258.00 278.00,258.00 277.75,258.00 277.50,258.00 277.25,258.00 277.00,258.00 276.75,258.00 276.50,258.00 276.25,258.00 276.00,258.00 275.75,258.00 275.50,258.00 275.25,258.00 275.00,258.00 274.75,258.00 274.50,258.00 274.25,258.00 274.00,258.00 273.75,258.00 273.50,258.00 273.25,258.00 273.00,258.00 272.75,258.00 272.50,258.00 272.25,258.00 272.00,258.00 271.75,258.00 271.50,258.00 271.25,258.00 271.00,258.00 270.75,258.00 270.50,258.00 270.25,258.00 270.00,258.00 269.75,258.00 269.50,258.00 269.25,258.00 269.00,258.00 268.75,258.00 268.50,258.00 268.25,258.00 268.00,258.00 267.75,258.00 267.50,258.00 267.25,258.00 267.00,258.00 266.75,258.00 266.50,258.00 266.25,258.00 266.00,258.00 265.75,258.00 265.50,258.00 265.25,258.00 265.00,258.00 264.75,257.78 264.50,257.56 264.25,257.34 264.00,257.12 263.75,256.90 263.50,256.68 263.25,256.46 263.00,256.24 262.75,256.02 262.50,255.80 262.25,255.58 262.00,255.36 261.75,255.14 261.50,254.92 261.25,254.70 261.00,254.48 260.75,254.26 260.50,254.04 260.25,253.82 260.00,253.60 259.75,253.38 259.50,253.16 259.25,252.94 259.00,252.72 258.75,252.50 258.50,252.28 258.25,252.06 258.00,251.84 257.75,251.62 257.50,251.40 257.25,251.18 257.00,250.96 256.75,250.74 256.50,250.52 256.25,250.30 256.00,250.08 255.75,249.86 255.50,249.64 255.25,249.42 255.00,249.20 254.75,248.98 254.50,248.76 254.25,248.54 254.00,248.32 253.75,248.10 253.50,247.88 253.25,247.66 253.00,247.44 252.75,247.22 252.50,247.00 252.25,247.00 252.00,246.99 251.75,246.99 251.50,246.98 251.25,246.98 251.00,246.97 250.75,246.97 250.50,246.96 250.25,246.96 250.00,246.95 249.75,246.95 249.50,246.94 249.25,246.94 249.00,246.93 248.75,246.93 248.50,246.92 248.25,246.92 248.00,246.91 247.75,246.91 247.50,246.90 247.25,246.90 247.00,246.89 246.75,246.89 246.50,246.88 246.25,246.88 246.00,246.87 245.75,246.87 245.50,246.86 245.25,246.86 245.00,246.85 244.75,246.85 244.50,246.84 244.25,246.84 244.00,246.83 243.75,246.83 243.50,246.82 243.25,246.82 243.00,246.81 242.75,246.81 242.50,246.80 242.25,246.80 242.00,246.79 241.75,246.79 241.50,246.78 241.25,246.78 241.00,246.77 240.75,246.77 240.50,246.76 240.25,246.76 240.00,246.75 239.75,246.75 239.50,246.74 239.25,246.74 239.00,246.73 238.75,246.73 238.50,246.72 238.25,246.72 238.00,246.71 237.75,246.71 237.50,246.70 237.25,246.70 237.00,246.69 236.75,246.69 236.50,246.68 236.25,246.68 236.00,246.67 235.75,246.67 235.50,246.66 235.25,246.66 235.00,246.65 234.75,246.65 234.50,246.64 234.25,246.64 234.00,246.63 233.75,246.63 233.50,246.62 233.25,246.62 233.00,246.61 232.75,246.61 232.50,246.60 232.25,246.60 232.00,246.59 231.75,246.59 231.50,246.58 231.25,246.58 231.00,246.57 230.75,246.57 230.50,246.56 230.25,246.56 230.00,246.55 229.75,246.55 229.50,246.54 229.25,246.54 229.00,246.53 228.75,246.53 228.50,246.52 228.25,246.52 228.00,246.51 227.75,246.51 227.50,246.50 227.25,246.50 227.00,246.50 226.75,246.49 226.50,246.49 226.25,246.48 226.00,246.48 225.75,246.47 225.50,246.47 225.25,246.46 225.00,246.46 224.75,246.45 224.50,246.45 224.25,246.44 224.00,246.44 223.75,246.43 223.50,246.43 223.25,246.42 223.00,246.42 222.75,246.41 222.50,246.41 222.25,246.40 222.00,246.40 221.75,246.39 221.50,246.39 221.25,246.38 221.00,246.38 220.75,246.37 220.50,246.37 220.25,246.36 220.00,246.36 219.75,246.35 219.50,246.35 219.25,246.34 219.00,246.34 218.75,246.33 218.50,246.33 218.25,246.32 218.00,246.32 217.75,246.31 217.50,246.31 217.25,246.30 217.00,246.30 216.75,246.29 216.50,246.29 216.25,246.28 216.00,246.28 215.75,246.27 215.50,246.27 215.25,246.26 215.00,246.26 214.75,246.25 214.50,246.25 214.25,246.24 214.00,246.24 213.75,246.23 213.50,246.23 213.25,246.22 213.00,246.22 212.75,246.21 212.50,246.21 212.25,246.20 212.00,246.11 211.75,245.88 211.50,245.65 211.25,245.42 211.00,245.19 210.75,244.96 210.50,244.73 210.25,244.50 210.00,244.26 209.75,244.03 209.50,243.80 209.25,243.57 209.00,243.34 208.75,243.11 208.50,242.88 208.25,242.65 208.00,242.42 207.75,242.19 207.50,241.96 207.25,241.73 207.00,241.50 206.75,241.50 206.50,241.50 206.25,241.50 206.00,241.49 205.75,241.49 205.50,241.49 205.25,241.49 205.00,241.49 204.75,241.49 204.50,241.49 204.25,241.49 204.00,241.48 203.75,241.48 203.50,241.48 203.25,241.48 203.00,241.48 202.75,241.48 202.50,241.48 202.25,241.47 202.00,241.47 201.75,241.47 201.50,241.47 201.25,241.47 201.00,241.47 200.75,241.47 200.50,241.47 200.25,241.46 200.00,241.46 199.75,241.46 199.50,241.46 199.25,241.46 199.00,241.46 198.75,241.46 198.50,241.45 198.25,241.45 198.00,241.45 197.75,241.45 197.50,241.45 197.25,241.45 197.00,241.45 196.75,241.45 196.50,241.44 196.25,241.44 196.00,241.44 195.75,241.44 195.50,241.44 195.25,241.44 195.00,241.44 194.75,241.44 194.50,241.43 194.25,241.43 194.00,241.43 193.75,241.43 193.50,241.43 193.25,241.43 193.00,241.43 192.75,241.42 192.50,241.42 192.25,241.42 192.00,241.42 191.75,241.42 191.50,241.42 191.25,241.42 191.00,241.42 190.75,241.41 190.50,241.41 190.25,241.41 190.00,241.41 189.75,241.41 189.50,241.41 189.25,241.41 189.00,241.40 188.75,241.40 188.50,241.40 188.25,241.40 188.00,241.40 187.75,241.40 187.50,241.40 187.25,241.40 187.00,241.39 186.75,241.39 186.50,241.39 186.25,241.39 186.00,241.39 185.75,241.39 185.50,241.39 185.25,241.38 185.00,241.38 184.75,241.38 184.50,241.38 184.25,241.38 184.00,241.38 183.75,241.38 183.50,241.38 183.25,241.37 183.00,241.37 182.75,241.37 182.50,241.37 182.25,241.37 182.00,241.37 181.75,241.37 181.50,241.36 181.25,241.36 181.00,241.36 180.75,241.36 180.50,241.36 180.25,241.36 180.00,241.36 179.75,241.36 179.50,241.35 179.25,241.35 179.00,241.35 178.75,241.35 178.50,241.35 178.25,241.35 178.00,241.35 177.75,241.34 177.50,241.34 177.25,241.34 177.00,241.34 176.75,241.34 176.50,241.34 176.25,241.34 176.00,241.34 175.75,241.33 175.50,241.33 175.25,241.33 175.00,241.33 174.75,241.33 174.50,241.33 174.25,241.33 174.00,241.33 173.75,241.32 173.50,241.32 173.25,241.32 173.00,241.32 172.75,241.32 172.50,241.32 172.25,241.32 172.00,241.31 171.75,241.31 171.50,241.31 171.25,241.31 171.00,241.31 170.75,241.31 170.50,241.31 170.25,241.31 170.00,241.30 169.75,241.30 169.50,241.30 169.25,241.30 169.00,241.30 168.75,241.30 168.50,241.30 168.25,241.29 168.00,241.29 167.75,241.29 167.50,241.29 167.25,241.29 167.00,241.29 166.75,241.29 166.50,241.29 166.25,241.28 166.00,241.28 165.75,241.28 165.50,241.28 165.25,241.28 165.00,241.28 164.75,241.28 164.50,241.27 164.25,241.27 164.00,241.27 163.75,241.27 163.50,241.27 163.25,241.27 163.00,241.27 162.75,241.27 162.50,241.26 162.25,241.26 162.00,241.26 161.75,241.26 161.50,241.26 161.25,241.26 161.00,241.26 160.75,241.25 160.50,241.25 160.25,241.25 160.00,241.25 159.75,241.25 159.50,241.25 159.25,241.25 159.00,241.25 158.75,241.24 158.50,241.24 158.25,241.24 158.00,241.24 157.75,241.24 157.50,241.24 157.25,241.24 157.00,241.23 156.75,241.23 156.50,241.23 156.25,241.23 156.00,241.23 155.75,241.23 155.50,241.23 155.25,241.23 155.00,241.22 154.75,241.22 154.50,241.22 154.25,241.22 154.00,241.22 153.75,241.22 153.50,241.22 153.25,241.22 153.00,241.21 152.75,241.21 152.50,241.21 152.25,241.21 152.00,241.21 151.75,241.21 151.50,241.21 151.25,241.20 151.00,241.20 150.75,241.20 150.50,241.20 150.25,240.99 150.00,240.65 149.75,240.31 149.50,239.97 149.25,239.62 149.00,239.28 148.75,238.94 148.50,238.60" fill="rgba(76,175,80,0.10)"/>
<polygon points="405.00,151.16 405.25,151.03 405.50,151.09 405.75,151.20 406.00,151.31 406.25,151.42 406.50,151.52 406.75,151.63 407.00,151.74 407.25,151.85 407.50,151.96 407.75,152.07 408.00,152.18 408.25,152.29 408.50,152.40 408.75,152.51 409.00,152.62 409.25,152.73 409.50,152.83 409.75,152.94 410.00,153.05 410.25,153.16 410.50,153.27 410.75,153.38 411.00,153.49 411.25,153.60 411.50,153.71 411.75,153.82 412.00,153.93 412.25,154.04 412.50,154.15 412.75,154.25 413.00,154.36 413.25,154.47 413.50,154.58 413.75,154.69 414.00,154.80 414.25,154.91 414.50,155.02 414.75,155.13 415.00,155.24 415.25,155.35 415.50,155.46 415.75,155.50 416.00,155.50 416.25,155.50 416.50,155.50 416.75,155.50 417.00,155.50 417.25,155.50 417.50,155.50 417.75,155.50 418.00,155.50 418.25,155.50 418.50,155.50 418.75,155.50 419.00,155.50 419.25,155.50 419.50,155.50 419.75,155.50 420.00,155.50 420.25,155.50 420.50,155.50 420.75,155.48 421.00,155.36 421.25,155.24 421.50,155.12 421.75,155.00 422.00,154.88 422.25,154.75 422.50,154.63 422.75,154.51 423.00,154.39 423.25,154.27 423.50,154.15 423.75,154.03 424.00,153.91 424.25,153.79 424.50,153.67 424.75,153.55 425.00,153.43 425.25,153.31 425.50,153.19 425.75,153.07 426.00,152.96 426.25,152.86 426.50,152.75 426.75,152.65 427.00,152.55 427.25,152.44 427.50,152.34 427.75,152.24 428.00,152.14 428.25,152.03 428.50,151.93 428.75,151.83 429.00,151.72 429.25,151.62 429.50,151.52 429.75,151.41 430.00,151.31 430.25,151.21 430.50,151.11 430.75,151.00 431.00,150.90 431.25,150.87 431.50,150.83 431.75,150.80 432.00,150.76 432.25,150.73 432.50,150.69 432.75,150.66 433.00,150.63 433.25,150.59 433.50,150.56 433.75,150.52 434.00,150.49 434.25,150.45 434.50,150.42 434.75,150.39 435.00,150.35 435.25,150.32 435.50,150.28 435.75,150.25 436.00,150.22 436.25,150.18 436.50,150.15 436.75,150.11 437.00,150.08 437.25,150.04 437.50,150.01 437.75,149.98 438.00,149.94 438.25,149.91 438.50,149.80 438.75,149.67 439.00,149.54 439.25,149.41 439.50,149.29 439.75,149.16 440.00,149.03 440.25,148.90 440.50,148.77 440.75,148.65 441.00,148.52 441.25,148.39 441.50,148.26 441.75,148.13 442.00,148.00 442.25,147.88 442.50,147.54 442.75,146.87 443.00,146.21 443.25,145.55 443.50,144.89 443.75,144.23 444.00,143.57 444.25,142.91 444.50,142.25 444.75,141.58 445.00,140.92 445.25,140.26 445.50,139.60 445.75,139.10 446.00,138.60 446.25,138.10 446.50,137.60 446.75,137.10 447.00,136.60 447.25,136.10 447.50,135.60 447.75,135.10 448.00,134.60 448.25,134.10 448.50,133.60 448.75,133.29 449.00,133.12 449.25,132.94 449.50,132.76 449.75,132.59 450.00,132.41 450.25,132.24 450.50,132.06 450.75,131.88 451.00,131.71 451.25,131.53 451.50,131.35 451.75,131.18 452.00,131.00 452.25,130.82 452.50,130.65 452.75,130.47 453.00,130.29 453.25,130.12 453.50,129.94 453.75,129.80 454.00,129.80 454.25,129.80 454.50,129.80 454.75,129.80 455.00,129.80 455.25,129.80 455.50,129.80 455.75,129.80 456.00,129.80 456.25,129.80 456.50,129.80 456.75,129.80 457.00,129.80 457.25,129.80 457.50,129.80 457.75,129.80 458.00,129.80 458.25,129.80 458.50,129.80 458.75,129.80 459.00,129.80 459.25,129.80 459.50,129.80 459.75,129.80 460.00,129.80 460.25,129.80 460.50,129.80 460.75,129.80 461.00,129.80 461.25,129.80 461.50,129.80 461.75,129.80 462.00,129.80 462.25,129.80 462.50,129.80 462.75,129.80 463.00,129.80 463.25,129.80 463.50,129.80 463.75,129.80 464.00,129.80 464.25,129.80 464.50,129.80 464.75,129.80 465.00,129.80 465.25,129.80 465.50,129.80 465.75,129.80 466.00,129.80 466.25,129.80 466.50,129.80 466.75,129.80 467.00,129.80 467.25,129.80 467.50,129.80 467.75,129.80 468.00,129.80 468.25,129.80 468.50,129.80 468.75,129.80 469.00,129.80 469.25,129.80 469.50,129.80 469.75,129.80 470.00,129.80 470.25,129.80 470.50,129.80 470.75,129.80 471.00,129.80 471.25,129.76 471.50,129.56 471.75,129.35 472.00,129.15 472.25,128.94 472.50,128.74 472.75,128.54 473.00,128.33 473.25,128.13 473.50,127.92 473.75,127.72 474.00,127.52 474.25,127.31 474.25,127.38 474.00,127.38 473.75,127.38 473.50,127.39 473.25,127.39 473.00,127.39 472.75,127.39 472.50,127.40 472.25,127.40 472.00,127.40 471.75,127.40 471.50,127.40 471.25,127.40 471.00,127.40 470.75,127.40 470.50,127.40 470.25,127.40 470.00,127.40 469.75,127.40 469.50,127.40 469.25,127.40 469.00,127.40 468.75,127.40 468.50,127.40 468.25,127.40 468.00,127.40 467.75,127.40 467.50,127.40 467.25,127.40 467.00,127.40 466.75,127.40 466.50,127.40 466.25,127.40 466.00,127.40 465.75,127.40 465.50,127.40 465.25,127.40 465.00,127.40 464.75,127.40 464.50,127.40 464.25,127.40 464.00,127.40 463.75,127.40 463.50,127.40 463.25,127.40 463.00,127.40 462.75,127.40 462.50,127.40 462.25,127.40 462.00,127.40 461.75,127.40 461.50,127.40 461.25,127.40 461.00,127.40 460.75,127.40 460.50,127.40 460.25,127.40 460.00,127.40 459.75,127.40 459.50,127.40 459.25,127.40 459.00,127.40 458.75,127.40 458.50,127.40 458.25,127.40 458.00,127.40 457.75,127.40 457.50,127.40 457.25,127.40 457.00,127.40 456.75,127.40 456.50,127.40 456.25,127.40 456.00,127.40 455.75,127.40 455.50,127.40 455.25,127.40 455.00,127.40 454.75,127.40 454.50,127.40 454.25,127.40 454.00,127.40 453.75,127.40 453.50,127.40 453.25,127.40 453.00,127.40 452.75,127.40 452.50,127.40 452.25,127.40 452.00,127.40 451.75,127.40 451.50,127.40 451.25,127.40 451.00,127.40 450.75,127.40 450.50,127.40 450.25,127.40 450.00,127.40 449.75,127.40 449.50,127.40 449.25,127.40 449.00,127.40 448.75,127.40 448.50,127.40 448.25,127.40 448.00,127.40 447.75,127.40 447.50,127.40 447.25,127.40 447.00,127.40 446.75,127.40 446.50,127.40 446.25,127.40 446.00,127.40 445.75,127.40 445.50,127.40 445.25,127.40 445.00,127.40 444.75,127.40 444.50,127.40 444.25,127.40 444.00,127.40 443.75,127.40 443.50,127.40 443.25,127.40 443.00,127.40 442.75,127.40 442.50,127.40 442.25,127.40 442.00,127.40 441.75,127.40 441.50,127.40 441.25,127.40 441.00,127.40 440.75,127.40 440.50,127.40 440.25,127.40 440.00,127.40 439.75,127.40 439.50,127.40 439.25,127.40 439.00,127.40 438.75,127.40 438.50,127.40 438.25,127.40 438.00,127.40 437.75,127.40 437.50,127.40 437.25,127.40 437.00,127.40 436.75,127.40 436.50,127.40 436.25,127.40 436.00,127.40 435.75,127.40 435.50,127.40 435.25,127.40 435.00,127.40 434.75,127.40 434.50,127.40 434.25,127.40 434.00,127.40 433.75,127.40 433.50,127.40 433.25,127.40 433.00,127.40 432.75,127.40 432.50,127.40 432.25,127.40 432.00,127.40 431.75,127.40 431.50,127.40 431.25,127.40 431.00,127.40 430.75,127.40 430.50,127.40 430.25,127.40 430.00,127.40 429.75,127.40 429.50,127.40 429.25,127.40 429.00,127.40 428.75,127.40 428.50,127.40 428.25,127.40 428.00,127.40 427.75,127.40 427.50,127.40 427.25,127.40 427.00,127.40 426.75,127.40 426.50,127.40 426.25,127.40 426.00,127.40 425.75,127.40 425.50,127.40 425.25,127.40 425.00,127.40 424.75,127.40 424.50,127.40 424.25,127.40 424.00,127.40 423.75,127.40 423.50,127.40 423.25,127.40 423.00,127.40 422.75,127.40 422.50,127.40 422.25,127.40 422.00,127.40 421.75,127.40 421.50,127.40 421.25,127.40 421.00,127.40 420.75,127.40 420.50,127.40 420.25,127.40 420.00,127.40 419.75,127.40 419.50,127.40 419.25,127.40 419.00,127.40 418.75,127.40 418.50,127.40 418.25,127.40 418.00,127.40 417.75,127.40 417.50,127.40 417.25,127.40 417.00,127.40 416.75,127.40 416.50,127.40 416.25,127.40 416.00,127.40 415.75,127.40 415.50,127.40 415.25,127.40 415.00,127.40 414.75,127.40 414.50,127.40 414.25,127.40 414.00,127.40 413.75,127.40 413.50,127.40 413.25,127.40 413.00,127.40 412.75,127.40 412.50,127.40 412.25,127.40 412.00,127.40 411.75,127.40 411.50,127.40 411.25,127.40 411.00,127.40 410.75,127.40 410.50,127.40 410.25,127.40 410.00,127.40 409.75,127.40 409.50,127.40 409.25,127.40 409.00,127.40 408.75,127.40 408.50,127.40 408.25,127.40 408.00,127.40 407.75,127.40 407.50,127.40 407.25,127.40 407.00,127.40 406.75,127.40 406.50,127.40 406.25,127.40 406.00,127.47 405.75,127.63 405.50,127.80 405.25,127.97 405.00,142.96" fill="rgba(242,54,69,0.085)"/>
<polygon points="474.25,127.31 474.50,127.11 474.75,126.90 475.00,126.70 475.25,126.25 475.50,125.81 475.75,125.36 476.00,124.92 476.25,124.47 476.50,124.03 476.75,123.58 477.00,123.14 477.25,122.69 477.50,122.25 477.75,121.80 478.00,121.36 478.25,120.96 478.50,120.74 478.75,120.52 479.00,120.31 479.25,120.09 479.50,119.87 479.75,119.66 480.00,119.44 480.25,119.22 480.50,119.01 480.75,118.79 481.00,118.57 481.25,118.36 481.50,118.14 481.75,117.92 482.00,117.71 482.25,117.49 482.50,117.27 482.75,117.06 483.00,116.84 483.25,116.62 483.50,116.41 483.75,116.19 484.00,115.97 484.25,115.79 484.50,115.73 484.75,115.66 485.00,115.60 485.25,115.54 485.50,115.48 485.75,115.42 486.00,115.36 486.25,115.29 486.50,115.23 486.75,115.17 487.00,115.11 487.25,115.05 487.50,114.98 487.75,114.92 488.00,114.86 488.25,114.80 488.50,114.74 488.75,114.68 489.00,114.61 489.25,114.55 489.50,114.49 489.75,114.43 490.00,114.37 490.25,114.30 490.50,114.24 490.75,114.18 491.00,114.12 491.25,114.06 491.50,114.00 491.75,113.93 492.00,113.87 492.25,113.81 492.50,113.75 492.75,113.69 493.00,113.62 493.25,113.64 493.50,113.69 493.75,113.75 494.00,113.81 494.25,113.87 494.50,113.93 494.75,113.99 495.00,114.05 495.25,114.11 495.50,114.17 495.75,114.23 496.00,114.29 496.25,114.35 496.50,114.41 496.75,114.47 497.00,114.53 497.25,114.58 497.50,114.64 497.75,114.70 498.00,114.76 498.25,114.82 498.50,114.88 498.75,114.94 499.00,115.00 499.25,115.10 499.50,115.19 499.75,115.29 500.00,115.38 500.25,115.48 500.50,115.58 500.75,115.67 501.00,115.77 501.25,115.86 501.50,115.96 501.75,116.05 502.00,116.15 502.25,116.25 502.50,116.34 502.75,116.44 503.00,116.53 503.25,116.63 503.50,116.72 503.75,116.82 504.00,116.92 504.25,117.01 504.50,117.11 504.75,117.20 505.00,117.30 505.25,117.30 505.50,117.31 505.75,117.31 506.00,117.31 506.25,117.32 506.50,117.32 506.75,117.32 507.00,117.33 507.25,117.33 507.50,117.33 507.75,117.34 508.00,117.34 508.25,117.34 508.50,117.35 508.75,117.35 509.00,117.35 509.25,117.36 509.50,117.36 509.75,117.36 510.00,117.37 510.25,117.37 510.50,117.37 510.75,117.38 511.00,117.38 511.25,117.38 511.50,117.39 511.75,117.39 512.00,117.39 512.25,117.40 512.50,117.40 512.75,117.40 513.00,117.41 513.25,117.41 513.50,117.41 513.75,117.42 514.00,117.42 514.25,117.42 514.50,117.43 514.75,117.43 515.00,117.43 515.25,117.44 515.50,117.44 515.75,117.44 516.00,117.45 516.25,117.45 516.50,117.45 516.75,117.46 517.00,117.46 517.25,117.46 517.50,117.47 517.75,117.47 518.00,117.47 518.25,117.48 518.50,117.48 518.75,117.48 519.00,117.49 519.25,117.49 519.50,117.49 519.75,117.50 520.00,117.50 520.25,117.59 520.50,117.69 520.75,117.78 521.00,117.88 521.25,117.97 521.50,118.06 521.75,118.16 522.00,118.25 522.25,118.34 522.50,118.44 522.75,118.53 523.00,118.62 523.25,118.72 523.50,118.81 523.75,118.91 524.00,119.00 524.25,119.09 524.50,119.19 524.75,119.28 525.00,119.38 525.25,119.47 525.50,119.56 525.75,119.66 526.00,119.75 526.25,119.84 526.50,119.94 526.75,120.03 527.00,120.12 527.25,120.22 527.50,120.31 527.75,120.41 528.00,120.50 528.25,120.59 528.50,120.69 528.75,120.78 529.00,120.88 529.25,120.97 529.50,121.06 529.75,121.16 530.00,121.25 530.25,121.38 530.50,121.50 530.75,121.62 531.00,121.75 531.25,121.88 531.50,122.00 531.75,122.12 532.00,122.25 532.25,122.38 532.50,122.50 532.75,122.62 533.00,122.75 533.25,122.88 533.50,123.00 533.75,123.12 534.00,123.25 534.25,123.38 534.50,123.50 534.75,123.62 535.00,123.75 535.25,123.88 535.50,124.00 535.75,124.12 536.00,124.25 536.25,124.38 536.50,124.50 536.75,124.62 537.00,124.75 537.25,124.88 537.50,125.00 537.75,125.28 538.00,125.56 538.25,125.84 538.50,126.12 538.75,126.40 539.00,126.68 539.25,126.96 539.50,127.24 539.75,127.52 540.00,127.80 540.25,128.08 540.50,128.36 540.75,128.64 541.00,128.92 541.25,129.20 541.50,129.48 541.75,129.76 542.00,130.04 542.25,130.32 542.50,130.60 542.75,130.88 543.00,131.16 543.25,131.44 543.50,131.72 543.75,132.00 544.00,132.00 544.25,132.00 544.50,132.00 544.75,132.00 545.00,132.00 545.25,132.00 545.50,132.00 545.75,132.00 546.00,132.00 546.25,132.00 546.50,132.00 546.75,132.00 547.00,132.00 547.25,132.00 547.50,132.00 547.75,132.00 548.00,132.00 548.25,132.00 548.50,132.00 548.75,132.00 549.00,132.00 549.25,132.00 549.50,132.00 549.75,132.00 550.00,132.00 550.25,132.00 550.50,132.00 550.75,132.00 551.00,132.00 551.25,132.00 551.50,132.00 551.75,132.00 552.00,132.00 552.25,132.00 552.50,132.00 552.75,132.00 553.00,132.00 553.25,132.00 553.50,132.00 553.75,132.00 554.00,132.00 554.25,132.00 554.50,132.00 554.75,132.00 555.00,132.00 555.25,132.00 555.50,132.00 555.75,132.00 556.00,132.00 556.25,132.00 556.50,132.00 556.75,132.00 557.00,132.00 557.25,132.00 557.50,132.00 557.75,132.00 558.00,132.00 558.25,132.00 558.50,132.00 558.75,132.00 559.00,132.00 559.25,132.00 559.50,132.00 559.75,132.00 560.00,132.00 560.25,132.00 560.50,132.00 560.75,132.00 561.00,132.00 561.25,132.00 561.50,132.00 561.75,132.00 562.00,132.00 562.25,132.00 562.50,132.00 562.75,132.00 563.00,132.00 563.25,132.00 563.50,132.00 563.75,132.00 564.00,132.00 564.25,132.00 564.50,132.00 564.75,132.00 565.00,132.00 565.25,132.00 565.50,132.00 565.75,132.00 566.00,132.00 566.25,132.00 566.50,132.00 566.75,132.00 567.00,132.00 567.25,132.00 567.50,132.00 567.75,131.77 568.00,131.53 568.25,131.30 568.50,131.07 568.75,130.83 569.00,130.60 569.25,130.37 569.50,130.13 569.75,129.90 570.00,129.67 570.25,129.43 570.50,129.20 570.75,128.97 571.00,128.73 571.25,128.50 571.50,128.27 571.75,128.03 572.00,127.80 572.25,127.57 572.50,127.33 572.75,127.10 573.00,126.87 573.25,126.63 573.50,126.40 573.75,126.17 574.00,125.93 574.25,125.70 574.50,125.47 574.75,125.23 575.00,125.00 575.25,124.77 575.50,124.54 575.75,124.31 576.00,124.09 576.25,123.86 576.50,123.63 576.75,123.40 577.00,123.17 577.25,122.94 577.50,122.71 577.75,122.49 578.00,122.26 578.25,122.03 578.50,121.80 578.75,121.57 579.00,121.34 579.25,121.11 579.50,120.89 579.75,120.66 580.00,120.43 580.25,120.20 580.50,119.97 580.75,119.74 581.00,119.51 581.25,119.29 581.50,119.06 581.75,118.83 582.00,118.60 582.25,118.37 582.50,118.14 582.75,117.91 583.00,117.69 583.25,117.46 583.50,117.23 583.75,117.00 584.00,117.00 584.25,117.00 584.50,117.00 584.75,117.00 585.00,117.00 585.25,117.00 585.50,117.00 585.75,117.00 586.00,117.00 586.25,117.00 586.50,117.00 586.75,117.00 587.00,117.00 587.25,117.00 587.50,117.00 587.75,117.00 588.00,117.00 588.25,117.00 588.50,117.00 588.75,117.00 589.00,117.00 589.25,117.00 589.50,117.00 589.75,117.00 590.00,117.00 590.25,117.00 590.50,117.00 590.75,117.00 591.00,117.00 591.25,117.00 591.50,117.00 591.75,117.00 592.00,117.00 592.25,117.00 592.50,117.00 592.75,117.00 593.00,117.00 593.25,117.00 593.50,117.00 593.75,117.00 594.00,117.00 594.25,117.00 594.50,117.00 594.75,117.00 595.00,117.00 595.25,116.72 595.50,116.43 595.75,116.14 596.00,115.86 596.25,115.58 596.50,115.29 596.75,115.00 597.00,114.72 597.25,114.44 597.50,114.15 597.75,113.86 598.00,113.58 598.25,113.30 598.50,113.01 598.75,112.72 599.00,112.44 599.25,112.16 599.50,111.87 599.75,111.58 600.00,111.30 600.25,111.23 600.50,111.17 600.75,111.11 601.00,111.04 601.25,110.97 601.50,110.91 601.75,110.84 602.00,110.78 602.25,110.72 602.50,110.65 602.75,110.58 603.00,110.52 603.25,110.45 603.50,110.39 603.75,110.33 604.00,110.26 604.25,110.19 604.50,110.13 604.75,110.06 605.00,110.00 605.25,109.90 605.50,109.81 605.75,109.71 606.00,109.62 606.25,109.52 606.50,109.42 606.75,109.33 607.00,109.23 607.25,109.14 607.50,109.04 607.75,108.95 608.00,108.85 608.25,108.75 608.50,108.66 608.75,108.56 609.00,108.47 609.25,108.37 609.50,108.27 609.75,108.18 610.00,108.08 610.25,107.99 610.50,107.89 610.75,107.79 611.00,107.70 611.25,107.60 611.50,107.51 611.75,107.41 612.00,107.32 612.25,107.22 612.50,106.78 612.75,106.25 613.00,105.72 613.25,105.19 613.50,104.66 613.75,104.13 614.00,103.60 614.25,103.07 614.50,102.54 614.75,102.01 615.00,101.48 615.25,100.95 615.50,100.42 615.75,99.88 616.00,99.28 616.25,98.67 616.50,98.07 616.75,97.47 617.00,96.86 617.25,96.26 617.50,95.66 617.75,95.05 618.00,94.45 618.25,93.85 618.50,93.24 618.75,92.64 619.00,92.04 619.25,91.43 619.50,90.83 619.75,90.23 620.00,89.62 620.25,89.02 620.50,88.65 620.75,88.34 621.00,88.03 621.25,87.72 621.50,87.41 621.75,87.10 622.00,86.79 622.25,86.48 622.50,86.17 622.75,85.86 623.00,85.55 623.25,85.24 623.50,84.93 623.75,84.62 624.00,84.32 624.25,84.01 624.50,83.70 624.75,83.39 625.00,83.16 625.25,83.05 625.50,82.94 625.75,82.83 626.00,82.72 626.25,82.61 626.50,82.50 626.75,82.39 627.00,82.28 627.25,82.17 627.50,82.06 627.75,81.95 628.00,81.84 628.25,81.73 628.50,81.62 628.75,81.52 629.00,81.41 629.25,81.30 629.50,81.19 629.75,81.08 630.00,80.97 630.25,80.86 630.50,80.75 630.75,80.64 631.00,80.53 631.25,80.42 631.50,80.31 631.75,80.20 632.00,80.09 632.25,79.98 632.50,79.88 632.75,79.77 633.00,79.66 633.25,79.56 633.50,79.45 633.75,79.35 634.00,79.25 634.25,79.14 634.50,79.04 634.75,78.94 635.00,78.84 635.25,78.73 635.50,78.63 635.75,78.53 636.00,78.42 636.25,78.32 636.50,78.22 636.75,78.11 637.00,78.01 637.25,77.91 637.50,77.81 637.75,77.70 638.00,77.60 638.25,77.50 638.50,77.39 638.75,77.29 639.00,77.19 639.25,77.09 639.50,76.98 639.75,76.88 640.00,76.75 640.25,76.63 640.50,76.50 640.75,76.38 641.00,76.25 641.25,76.13 641.50,76.00 641.75,75.88 642.00,75.75 642.25,75.62 642.50,75.50 642.75,75.37 643.00,75.25 643.25,75.12 643.50,75.00 643.75,74.87 644.00,74.75 644.25,74.62 644.50,74.50 644.75,74.37 645.00,74.25 645.25,74.12 645.50,74.00 645.75,73.87 646.00,73.75 646.25,73.62 646.50,73.50 646.75,73.37 647.00,73.25 647.25,73.12 647.50,73.00 647.75,72.87 648.00,72.75 648.25,72.62 648.50,72.50 648.75,72.37 649.00,72.26 649.25,72.17 649.50,72.08 649.75,71.99 650.00,71.89 650.25,71.80 650.50,71.71 650.75,71.62 651.00,71.52 651.25,71.43 651.50,71.34 651.75,71.25 652.00,71.15 652.25,71.06 652.50,70.97 652.75,70.88 653.00,70.78 653.25,70.69 653.50,70.60 653.75,70.58 654.00,70.56 654.25,70.53 654.50,70.51 654.75,70.49 655.00,70.47 655.25,70.45 655.50,70.42 655.75,70.40 656.00,70.38 656.25,70.36 656.50,70.34 656.75,70.31 657.00,70.29 657.25,70.27 657.50,70.25 657.75,70.22 658.00,70.20 658.25,70.18 658.50,70.16 658.75,70.14 659.00,70.11 659.25,70.09 659.50,70.07 659.75,70.05 660.00,70.03 660.25,70.00 660.50,69.87 660.75,69.70 661.00,69.53 661.25,69.37 661.50,69.20 661.75,69.03 662.00,68.87 662.25,68.70 662.50,68.53 662.75,68.37 663.00,68.20 663.25,68.03 663.50,67.87 663.75,67.70 664.00,67.53 664.25,67.37 664.50,67.20 664.75,67.03 665.00,66.87 665.25,66.70 665.50,66.53 665.75,66.37 666.00,66.20 666.25,66.03 666.50,65.87 666.75,65.70 667.00,65.53 667.25,65.36 667.50,65.18 667.75,64.99 668.00,64.80 668.25,64.61 668.50,64.43 668.75,64.24 669.00,64.05 669.25,63.86 669.50,63.68 669.75,63.49 670.00,63.30 670.25,63.11 670.50,62.93 670.75,62.74 671.00,62.55 671.25,62.36 671.50,62.18 671.75,61.99 672.00,61.80 672.25,61.61 672.50,61.43 672.75,61.24 673.00,61.05 673.25,60.86 673.50,60.67 673.75,60.49 674.00,60.30 674.25,60.13 674.50,59.97 674.75,59.80 675.00,59.63 675.25,59.47 675.50,59.30 675.75,59.13 676.00,58.97 676.25,58.80 676.50,58.63 676.75,58.47 677.00,58.30 677.25,58.13 677.50,57.97 677.75,57.80 678.00,57.63 678.25,57.47 678.50,57.30 678.75,57.13 679.00,56.97 679.25,56.80 679.50,56.63 679.75,56.47 680.00,56.30 680.25,56.23 680.50,56.16 680.75,56.09 681.00,56.03 681.25,55.96 681.50,55.89 681.75,55.82 682.00,55.75 682.25,55.68 682.50,55.62 682.75,55.55 683.00,55.48 683.25,55.41 683.50,55.34 683.75,55.27 684.00,55.20 684.25,55.14 684.50,55.07 684.75,55.00 685.00,54.93 685.25,54.86 685.50,54.79 685.75,54.73 686.00,54.66 686.25,54.59 686.50,54.52 686.75,54.45 687.00,54.38 687.25,54.31 687.50,54.25 687.75,54.18 688.00,54.11 688.25,54.04 688.50,53.94 688.75,53.79 689.00,53.64 689.25,53.50 689.50,53.35 689.75,53.20 690.00,53.05 690.25,52.90 690.50,52.76 690.75,52.61 691.00,52.46 691.25,52.31 691.50,52.16 691.75,52.02 692.00,51.87 692.25,51.72 692.50,51.57 692.75,51.42 693.00,51.28 693.25,51.13 693.50,50.98 693.75,50.83 694.00,50.68 694.25,50.54 694.50,50.39 694.75,50.24 695.00,50.09 695.25,49.94 695.50,49.80 695.75,49.65 696.00,49.50 696.25,49.48 696.50,49.46 696.75,49.44 697.00,49.41 697.25,49.39 697.50,49.37 697.75,49.35 698.00,49.33 698.25,49.31 698.50,49.29 698.75,49.26 699.00,49.24 699.25,49.22 699.50,49.20 699.75,49.18 700.00,49.16 700.25,49.14 700.50,49.12 700.75,49.09 701.00,49.07 701.25,49.05 701.50,49.03 701.75,49.01 702.00,48.99 702.25,48.97 702.50,48.94 702.75,48.92 703.00,48.90 703.25,48.88 703.50,48.86 703.75,48.84 704.00,48.82 704.25,48.79 704.50,48.77 704.75,48.75 705.00,48.73 705.25,48.71 705.50,48.69 705.75,48.67 706.00,48.64 706.25,48.62 706.50,48.60 706.75,48.58 707.00,48.56 707.25,48.54 707.50,48.52 707.75,48.50 708.00,48.47 708.25,48.45 708.50,48.43 708.75,48.41 709.00,48.39 709.25,48.37 709.50,48.35 709.75,48.32 710.00,48.30 710.25,48.28 710.50,48.26 710.75,48.24 711.00,48.22 711.25,48.18 711.50,48.09 711.75,48.00 712.00,47.91 712.25,47.82 712.50,47.73 712.75,47.64 713.00,47.55 713.25,47.45 713.50,47.36 713.75,47.27 714.00,47.18 714.25,47.09 714.50,47.00 714.75,46.91 715.00,46.82 715.25,46.73 715.50,46.64 715.75,46.55 716.00,46.45 716.25,46.36 716.50,46.27 716.75,46.18 717.00,46.09 717.25,46.00 717.50,45.91 717.75,45.82 718.00,45.73 718.25,45.64 718.50,45.55 718.75,45.45 719.00,45.36 719.25,45.27 719.50,45.18 719.75,45.09 720.00,45.00 720.25,44.86 720.50,44.72 720.75,44.57 721.00,44.43 721.25,44.29 721.50,44.15 721.75,44.00 722.00,43.86 722.25,43.72 722.50,43.58 722.75,43.43 723.00,43.29 723.25,43.15 723.50,43.01 723.75,42.87 724.00,42.72 724.25,42.58 724.50,42.44 724.75,42.30 725.00,42.15 725.25,42.01 725.50,41.87 725.75,41.73 726.00,41.58 726.25,41.44 726.50,41.30 726.75,41.21 727.00,41.11 727.25,41.02 727.50,40.93 727.75,40.84 728.00,40.74 728.25,40.65 728.50,40.56 728.75,40.46 729.00,40.37 729.25,40.28 729.50,40.19 729.75,40.09 730.00,40.00 730.25,40.10 730.50,40.20 730.75,40.30 731.00,40.40 731.25,40.50 731.50,40.60 731.75,40.70 732.00,40.80 732.25,40.90 732.50,41.00 732.75,41.10 733.00,41.20 733.25,41.30 733.50,41.40 733.75,41.50 734.00,41.60 734.25,41.70 734.50,41.80 734.75,41.90 735.00,42.00 735.25,42.10 735.50,42.20 735.75,42.30 736.00,42.40 736.25,42.50 736.50,42.35 736.75,42.20 737.00,42.05 737.25,41.90 737.50,41.75 737.75,41.60 738.00,41.45 738.25,41.30 738.50,41.15 738.75,41.00 739.00,40.85 739.25,40.70 739.50,40.55 739.75,40.40 740.00,40.25 740.25,40.10 740.50,39.95 740.75,39.80 741.00,39.65 741.25,39.50 741.50,39.35 741.75,39.20 742.00,39.05 742.25,38.90 742.50,38.75 742.75,38.69 743.00,38.62 743.25,38.56 743.50,38.50 743.75,38.44 744.00,38.38 744.25,38.31 744.50,38.25 744.75,38.19 745.00,38.12 745.25,38.06 745.50,38.00 745.75,37.94 746.00,37.88 746.25,37.81 746.50,37.75 746.75,37.69 747.00,37.62 747.25,37.56 747.50,37.50 747.75,37.44 748.00,37.38 748.25,37.31 748.50,37.25 748.75,37.19 749.00,37.12 749.25,37.06 749.50,37.00 749.75,36.94 750.00,36.88 750.25,36.81 750.50,36.75 750.75,36.69 751.00,36.62 751.25,36.56 751.50,36.50 751.75,36.44 752.00,36.38 752.25,36.31 752.50,36.25 752.75,36.26 753.00,36.27 753.25,36.29 753.50,36.30 753.75,36.31 754.00,36.33 754.25,36.34 754.50,36.35 754.75,36.36 755.00,36.38 755.25,36.39 755.50,36.40 755.75,36.41 756.00,36.42 756.25,36.44 756.50,36.45 756.75,36.46 757.00,36.48 757.25,36.49 757.50,36.50 757.75,36.51 758.00,36.52 758.25,36.54 758.50,36.55 758.75,36.56 759.00,36.58 759.25,36.59 759.50,36.60 759.75,36.61 760.00,36.62 760.25,36.64 760.50,36.65 760.75,36.66 761.00,36.67 761.25,36.69 761.50,36.70 761.75,36.71 762.00,36.73 762.25,36.74 762.50,36.75 762.75,36.76 763.00,36.77 763.25,36.79 763.50,36.80 763.75,36.81 764.00,36.83 764.25,36.84 764.50,36.85 764.75,36.86 765.00,36.88 765.25,36.89 765.50,36.90 765.75,36.91 766.00,36.92 766.25,36.94 766.50,36.95 766.75,36.96 767.00,36.98 767.25,36.99 767.50,37.00 767.75,37.12 768.00,37.24 768.25,37.36 768.50,37.49 768.75,37.61 769.00,37.73 769.25,37.85 769.50,37.97 769.75,38.09 770.00,38.21 770.25,38.34 770.50,38.46 770.75,38.58 771.00,38.70 771.25,38.82 771.50,38.94 771.75,39.06 772.00,39.19 772.25,39.31 772.50,39.43 772.75,39.55 773.00,39.67 773.25,39.79 773.50,39.91 773.75,40.04 774.00,40.16 774.25,40.28 774.50,40.40 774.75,40.52 775.00,40.64 775.25,40.76 775.50,40.89 775.75,41.01 776.00,41.13 776.25,41.25 776.50,41.62 776.75,42.00 777.00,42.38 777.25,42.75 777.50,43.12 777.75,43.50 778.00,43.88 778.25,44.25 778.50,44.62 778.75,45.00 779.00,45.38 779.25,45.75 779.50,46.12 779.75,46.50 780.00,46.88 780.25,47.25 780.50,47.62 780.75,48.00 781.00,48.38 781.25,48.75 781.50,49.12 781.75,49.50 782.00,49.88 782.25,50.25 782.50,50.62 782.75,51.00 783.00,51.38 783.25,51.75 783.50,52.12 783.75,52.50 784.00,52.55 784.25,52.60 784.50,52.65 784.75,52.70 785.00,52.75 785.25,52.80 785.50,52.85 785.75,52.90 786.00,52.95 786.25,53.00 786.50,53.05 786.75,53.10 787.00,53.15 787.25,53.20 787.50,53.25 787.75,53.30 788.00,53.35 788.25,53.40 788.50,53.45 788.75,53.50 789.00,53.55 789.25,53.60 789.50,53.65 789.75,53.70 790.00,53.75 790.25,54.19 790.50,54.62 790.75,55.06 791.00,55.50 791.25,55.94 791.50,56.38 791.75,56.81 792.00,57.25 792.25,57.69 792.50,58.12 792.75,58.56 793.00,59.00 793.25,59.44 793.50,59.88 793.75,60.31 794.00,60.75 794.25,61.19 794.50,61.62 794.75,62.06 795.00,62.50 795.25,63.10 795.50,63.70 795.75,64.30 796.00,64.90 796.25,65.50 796.50,66.10 796.75,66.70 797.00,67.30 797.25,67.90 797.50,68.50 797.75,69.10 798.00,69.70 798.25,70.30 798.50,70.90 798.75,71.50 799.00,72.10 799.25,72.70 799.50,73.30 799.75,73.90 800.00,74.50 800.25,75.10 800.50,75.70 800.75,76.30 801.00,76.90 801.25,77.50 801.50,77.54 801.75,77.57 802.00,77.61 802.25,77.64 802.50,77.68 802.75,77.71 803.00,77.75 803.25,77.79 803.50,77.82 803.75,77.86 804.00,77.89 804.25,77.93 804.50,77.96 804.75,78.00 805.00,78.04 805.25,78.07 805.50,78.11 805.75,78.14 806.00,78.18 806.25,78.21 806.50,78.25 806.75,78.29 807.00,78.32 807.25,78.36 807.50,78.39 807.75,78.43 808.00,78.46 808.25,78.50 808.50,78.54 808.75,78.57 809.00,78.61 809.25,78.64 809.50,78.68 809.75,78.71 810.00,78.75 810.25,78.88 810.50,79.00 810.75,79.12 811.00,79.25 811.25,79.38 811.50,79.50 811.75,79.62 812.00,79.75 812.25,79.88 812.50,80.00 812.75,80.12 813.00,80.25 813.25,80.38 813.50,80.50 813.75,80.62 814.00,80.75 814.25,80.88 814.50,81.00 814.75,81.12 815.00,81.25 815.25,81.38 815.50,81.50 815.75,81.62 816.00,81.75 816.25,81.88 816.50,82.00 816.75,82.12 817.00,82.25 817.25,82.38 817.50,82.50 817.75,82.62 818.00,82.75 818.25,82.88 818.50,83.00 818.75,83.12 819.00,83.25 819.25,83.38 819.50,83.50 819.75,83.62 820.00,83.75 820.25,83.81 820.50,83.88 820.75,83.94 821.00,84.00 821.25,84.06 821.50,84.12 821.75,84.19 822.00,84.25 822.25,84.31 822.50,84.38 822.75,84.44 823.00,84.50 823.25,84.56 823.50,84.62 823.75,84.69 824.00,84.75 824.25,84.81 824.50,84.88 824.75,84.94 825.00,85.00 825.25,85.06 825.50,85.12 825.75,85.17 826.00,85.23 826.25,85.29 826.50,85.35 826.50,84.95 826.25,85.33 826.00,85.40 825.75,85.40 825.50,85.41 825.25,85.41 825.00,85.41 824.75,85.41 824.50,85.41 824.25,85.42 824.00,85.42 823.75,85.42 823.50,85.42 823.25,85.42 823.00,85.43 822.75,85.43 822.50,85.43 822.25,85.43 822.00,85.43 821.75,85.44 821.50,85.44 821.25,85.44 821.00,85.44 820.75,85.44 820.50,85.45 820.25,85.45 820.00,85.45 819.75,85.45 819.50,85.45 819.25,85.46 819.00,85.46 818.75,85.46 818.50,85.46 818.25,85.46 818.00,85.47 817.75,85.47 817.50,85.47 817.25,85.47 817.00,85.47 816.75,85.48 816.50,85.48 816.25,85.48 816.00,85.48 815.75,85.48 815.50,85.49 815.25,85.49 815.00,85.49 814.75,85.49 814.50,85.49 814.25,85.50 814.00,85.50 813.75,85.50 813.50,85.50 813.25,85.50 813.00,85.51 812.75,85.51 812.50,85.51 812.25,85.51 812.00,85.51 811.75,85.52 811.50,85.52 811.25,85.52 811.00,85.52 810.75,85.52 810.50,85.53 810.25,85.53 810.00,85.53 809.75,85.53 809.50,85.53 809.25,85.54 809.00,85.54 808.75,85.54 808.50,85.54 808.25,85.54 808.00,85.55 807.75,85.55 807.50,85.55 807.25,85.55 807.00,85.55 806.75,85.56 806.50,85.56 806.25,85.56 806.00,85.56 805.75,85.56 805.50,85.57 805.25,85.57 805.00,85.57 804.75,85.57 804.50,85.57 804.25,85.58 804.00,85.58 803.75,85.58 803.50,85.58 803.25,85.58 803.00,85.59 802.75,85.59 802.50,85.59 802.25,85.59 802.00,85.59 801.75,85.60 801.50,85.60 801.25,85.60 801.00,85.60 800.75,85.60 800.50,85.61 800.25,85.61 800.00,85.61 799.75,85.61 799.50,85.61 799.25,85.62 799.00,85.62 798.75,85.62 798.50,85.62 798.25,85.62 798.00,85.63 797.75,85.63 797.50,85.63 797.25,85.63 797.00,85.63 796.75,85.64 796.50,85.64 796.25,85.64 796.00,85.64 795.75,85.64 795.50,85.65 795.25,85.65 795.00,85.65 794.75,85.65 794.50,85.65 794.25,85.66 794.00,85.66 793.75,85.66 793.50,85.66 793.25,85.66 793.00,85.67 792.75,85.67 792.50,85.67 792.25,85.67 792.00,85.67 791.75,85.68 791.50,85.68 791.25,85.68 791.00,85.68 790.75,85.68 790.50,85.69 790.25,85.69 790.00,85.69 789.75,85.69 789.50,85.69 789.25,85.70 789.00,85.70 788.75,85.70 788.50,85.70 788.25,85.70 788.00,85.71 787.75,85.71 787.50,85.71 787.25,85.71 787.00,85.71 786.75,85.72 786.50,85.72 786.25,85.72 786.00,85.72 785.75,85.72 785.50,85.73 785.25,85.73 785.00,85.73 784.75,85.73 784.50,85.73 784.25,85.74 784.00,85.74 783.75,85.74 783.50,85.74 783.25,85.74 783.00,85.75 782.75,85.75 782.50,85.75 782.25,85.75 782.00,85.75 781.75,85.76 781.50,85.76 781.25,85.76 781.00,85.76 780.75,85.76 780.50,85.77 780.25,85.77 780.00,85.77 779.75,85.77 779.50,85.77 779.25,85.78 779.00,85.78 778.75,85.78 778.50,85.78 778.25,85.78 778.00,85.79 777.75,85.79 777.50,85.79 777.25,85.79 777.00,85.79 776.75,85.80 776.50,85.80 776.25,85.80 776.00,85.80 775.75,85.80 775.50,85.81 775.25,85.81 775.00,85.81 774.75,85.81 774.50,85.81 774.25,85.82 774.00,85.82 773.75,85.82 773.50,85.82 773.25,85.82 773.00,85.83 772.75,85.83 772.50,85.83 772.25,85.83 772.00,85.83 771.75,85.84 771.50,85.84 771.25,85.84 771.00,85.84 770.75,85.84 770.50,85.85 770.25,85.85 770.00,85.85 769.75,85.85 769.50,85.85 769.25,85.86 769.00,85.86 768.75,85.86 768.50,85.86 768.25,85.86 768.00,85.87 767.75,85.87 767.50,85.87 767.25,85.87 767.00,85.87 766.75,85.88 766.50,85.88 766.25,85.88 766.00,85.88 765.75,85.88 765.50,85.89 765.25,85.89 765.00,85.89 764.75,85.89 764.50,85.89 764.25,85.90 764.00,85.90 763.75,85.90 763.50,85.90 763.25,85.90 763.00,85.91 762.75,85.91 762.50,85.91 762.25,85.91 762.00,85.91 761.75,85.92 761.50,85.92 761.25,85.92 761.00,85.92 760.75,85.92 760.50,85.93 760.25,85.93 760.00,85.93 759.75,85.93 759.50,85.93 759.25,85.94 759.00,85.94 758.75,85.94 758.50,85.94 758.25,85.94 758.00,85.95 757.75,85.95 757.50,85.95 757.25,85.95 757.00,85.95 756.75,85.96 756.50,85.96 756.25,85.96 756.00,85.96 755.75,85.96 755.50,85.97 755.25,85.97 755.00,85.97 754.75,85.97 754.50,85.97 754.25,85.98 754.00,85.98 753.75,85.98 753.50,85.98 753.25,85.98 753.00,85.99 752.75,85.99 752.50,85.99 752.25,85.99 752.00,85.99 751.75,86.00 751.50,86.00 751.25,86.00 751.00,86.00 750.75,86.00 750.50,86.01 750.25,86.01 750.00,86.01 749.75,86.01 749.50,86.01 749.25,86.02 749.00,86.02 748.75,86.02 748.50,86.02 748.25,86.02 748.00,86.03 747.75,86.03 747.50,86.03 747.25,86.03 747.00,86.03 746.75,86.04 746.50,86.04 746.25,86.04 746.00,86.04 745.75,86.04 745.50,86.05 745.25,86.05 745.00,86.05 744.75,86.05 744.50,86.05 744.25,86.06 744.00,86.06 743.75,86.06 743.50,86.06 743.25,86.06 743.00,86.07 742.75,86.07 742.50,86.07 742.25,86.07 742.00,86.07 741.75,86.08 741.50,86.08 741.25,86.08 741.00,86.08 740.75,86.08 740.50,86.09 740.25,86.09 740.00,86.09 739.75,86.09 739.50,86.09 739.25,86.10 739.00,86.10 738.75,86.10 738.50,86.10 738.25,86.10 738.00,86.11 737.75,86.11 737.50,86.11 737.25,86.11 737.00,86.11 736.75,86.12 736.50,86.12 736.25,86.12 736.00,86.12 735.75,86.12 735.50,86.13 735.25,86.13 735.00,86.13 734.75,86.13 734.50,86.13 734.25,86.14 734.00,86.14 733.75,86.14 733.50,86.14 733.25,86.14 733.00,86.15 732.75,86.15 732.50,86.15 732.25,86.15 732.00,86.15 731.75,86.16 731.50,86.16 731.25,86.16 731.00,86.16 730.75,86.16 730.50,86.17 730.25,86.17 730.00,86.17 729.75,86.17 729.50,86.17 729.25,86.18 729.00,86.18 728.75,86.18 728.50,86.18 728.25,86.18 728.00,86.19 727.75,86.19 727.50,86.19 727.25,86.19 727.00,86.19 726.75,86.20 726.50,86.20 726.25,86.20 726.00,86.20 725.75,86.20 725.50,86.21 725.25,86.21 725.00,86.21 724.75,86.21 724.50,86.21 724.25,86.22 724.00,86.22 723.75,86.22 723.50,86.22 723.25,86.22 723.00,86.23 722.75,86.23 722.50,86.23 722.25,86.23 722.00,86.23 721.75,86.24 721.50,86.24 721.25,86.24 721.00,86.24 720.75,86.24 720.50,86.25 720.25,86.25 720.00,86.25 719.75,86.27 719.50,86.28 719.25,86.30 719.00,86.32 718.75,86.33 718.50,86.35 718.25,86.37 718.00,86.39 717.75,86.40 717.50,86.42 717.25,86.44 717.00,86.45 716.75,86.47 716.50,86.49 716.25,86.50 716.00,86.52 715.75,86.54 715.50,86.55 715.25,86.57 715.00,86.59 714.75,86.60 714.50,86.62 714.25,86.64 714.00,86.66 713.75,86.67 713.50,86.69 713.25,86.71 713.00,86.72 712.75,86.74 712.50,86.76 712.25,86.77 712.00,86.79 711.75,86.81 711.50,86.82 711.25,86.84 711.00,86.86 710.75,86.87 710.50,86.89 710.25,86.91 710.00,86.92 709.75,86.94 709.50,86.96 709.25,86.98 709.00,86.99 708.75,87.01 708.50,87.03 708.25,87.04 708.00,87.06 707.75,87.08 707.50,87.09 707.25,87.11 707.00,87.13 706.75,87.14 706.50,87.16 706.25,87.18 706.00,87.19 705.75,87.21 705.50,87.23 705.25,87.25 705.00,87.26 704.75,87.28 704.50,87.30 704.25,87.31 704.00,87.33 703.75,87.35 703.50,87.36 703.25,87.38 703.00,87.40 702.75,87.41 702.50,87.43 702.25,87.45 702.00,87.46 701.75,87.48 701.50,87.50 701.25,87.52 701.00,87.53 700.75,87.55 700.50,87.57 700.25,87.58 700.00,87.60 699.75,87.71 699.50,87.82 699.25,87.92 699.00,88.03 698.75,88.14 698.50,88.25 698.25,88.36 698.00,88.46 697.75,88.57 697.50,88.68 697.25,88.79 697.00,88.89 696.75,89.00 696.50,89.11 696.25,89.22 696.00,89.33 695.75,89.43 695.50,89.54 695.25,89.65 695.00,89.76 694.75,89.87 694.50,89.97 694.25,90.08 694.00,90.19 693.75,90.30 693.50,90.41 693.25,90.51 693.00,90.62 692.75,90.73 692.50,90.84 692.25,90.94 692.00,91.05 691.75,91.16 691.50,91.27 691.25,91.38 691.00,91.48 690.75,91.59 690.50,91.70 690.25,91.73 690.00,91.77 689.75,91.80 689.50,91.83 689.25,91.87 689.00,91.90 688.75,91.93 688.50,91.97 688.25,92.00 688.00,92.04 687.75,92.07 687.50,92.10 687.25,92.14 687.00,92.17 686.75,92.20 686.50,92.24 686.25,92.27 686.00,92.30 685.75,92.34 685.50,92.37 685.25,92.40 685.00,92.44 684.75,92.47 684.50,92.50 684.25,92.54 684.00,92.57 683.75,92.61 683.50,92.64 683.25,92.67 683.00,92.71 682.75,92.74 682.50,92.77 682.25,92.79 682.00,92.72 681.75,92.65 681.50,92.59 681.25,92.52 681.00,92.45 680.75,92.38 680.50,92.32 680.25,92.25 680.00,92.18 679.75,92.12 679.50,92.05 679.25,91.98 679.00,91.91 678.75,91.85 678.50,91.78 678.25,91.71 678.00,91.72 677.75,91.75 677.50,91.77 677.25,91.80 677.00,91.83 676.75,91.85 676.50,91.88 676.25,91.91 676.00,91.93 675.75,91.96 675.50,91.99 675.25,92.02 675.00,92.04 674.75,92.07 674.50,92.10 674.25,92.12 674.00,92.15 673.75,92.18 673.50,92.20 673.25,92.23 673.00,92.26 672.75,92.28 672.50,92.31 672.25,92.34 672.00,92.36 671.75,92.39 671.50,92.42 671.25,92.44 671.00,92.47 670.75,92.50 670.50,92.52 670.25,92.55 670.00,92.58 669.75,92.60 669.50,92.63 669.25,92.66 669.00,92.68 668.75,92.71 668.50,92.74 668.25,92.76 668.00,92.79 667.75,92.85 667.50,92.93 667.25,93.01 667.00,93.09 666.75,93.17 666.50,93.25 666.25,93.33 666.00,93.41 665.75,93.49 665.50,93.57 665.25,93.65 665.00,93.74 664.75,93.82 664.50,93.90 664.25,93.98 664.00,94.06 663.75,94.14 663.50,94.22 663.25,94.30 663.00,94.38 662.75,94.46 662.50,94.54 662.25,94.62 662.00,94.70 661.75,94.78 661.50,94.90 661.25,95.03 661.00,95.15 660.75,95.28 660.50,95.40 660.25,95.53 660.00,95.65 659.75,95.78 659.50,95.90 659.25,96.03 659.00,96.15 658.75,96.28 658.50,96.40 658.25,96.53 658.00,96.65 657.75,96.78 657.50,96.90 657.25,97.03 657.00,97.15 656.75,97.28 656.50,97.40 656.25,97.53 656.00,97.65 655.75,97.78 655.50,97.90 655.25,98.03 655.00,98.15 654.75,98.28 654.50,98.40 654.25,98.53 654.00,98.65 653.75,98.78 653.50,98.90 653.25,99.06 653.00,99.21 652.75,99.37 652.50,99.52 652.25,99.68 652.00,99.83 651.75,99.99 651.50,100.14 651.25,100.30 651.00,100.45 650.75,100.61 650.50,100.77 650.25,100.92 650.00,101.08 649.75,101.23 649.50,101.39 649.25,101.54 649.00,101.70 648.75,101.85 648.50,102.01 648.25,102.17 648.00,102.32 647.75,102.48 647.50,102.63 647.25,102.79 647.00,102.94 646.75,103.10 646.50,103.25 646.25,103.41 646.00,103.56 645.75,103.72 645.50,103.88 645.25,104.05 645.00,104.32 644.75,104.59 644.50,104.85 644.25,105.12 644.00,105.39 643.75,105.66 643.50,105.92 643.25,106.19 643.00,106.46 642.75,106.72 642.50,106.99 642.25,107.26 642.00,107.52 641.75,107.79 641.50,108.06 641.25,108.33 641.00,108.59 640.75,108.86 640.50,109.13 640.25,109.39 640.00,109.66 639.75,109.93 639.50,110.19 639.25,110.46 639.00,110.73 638.75,111.00 638.50,111.26 638.25,111.53 638.00,111.80 637.75,112.06 637.50,112.33 637.25,112.60 637.00,112.86 636.75,113.13 636.50,113.40 636.25,113.67 636.00,113.93 635.75,114.20 635.50,114.47 635.25,114.73 635.00,115.00 634.75,115.50 634.50,116.00 634.25,116.50 634.00,117.00 633.75,117.50 633.50,118.00 633.25,118.50 633.00,119.00 632.75,119.50 632.50,120.00 632.25,120.50 632.00,121.00 631.75,121.50 631.50,122.00 631.25,122.50 631.00,123.00 630.75,123.50 630.50,124.00 630.25,124.50 630.00,125.00 629.75,125.00 629.50,125.00 629.25,125.00 629.00,125.00 628.75,125.00 628.50,125.00 628.25,125.00 628.00,125.00 627.75,125.00 627.50,125.00 627.25,125.00 627.00,125.00 626.75,125.00 626.50,125.00 626.25,125.00 626.00,125.00 625.75,125.00 625.50,125.00 625.25,125.00 625.00,125.00 624.75,125.38 624.50,125.75 624.25,126.12 624.00,126.50 623.75,126.88 623.50,127.25 623.25,127.62 623.00,128.00 622.75,128.38 622.50,128.75 622.25,129.12 622.00,129.50 621.75,129.88 621.50,130.25 621.25,130.62 621.00,131.00 620.75,131.38 620.50,131.75 620.25,132.12 620.00,132.50 619.75,132.88 619.50,133.25 619.25,133.62 619.00,134.00 618.75,134.38 618.50,134.75 618.25,135.12 618.00,135.50 617.75,135.88 617.50,136.25 617.25,136.62 617.00,137.00 616.75,137.38 616.50,137.75 616.25,138.12 616.00,138.50 615.75,138.88 615.50,139.25 615.25,139.62 615.00,140.00 614.75,140.38 614.50,140.75 614.25,141.12 614.00,141.50 613.75,141.88 613.50,142.25 613.25,142.62 613.00,143.00 612.75,143.38 612.50,143.75 612.25,143.75 612.00,143.75 611.75,143.75 611.50,143.75 611.25,143.75 611.00,143.75 610.75,143.75 610.50,143.75 610.25,143.75 610.00,143.75 609.75,143.75 609.50,143.75 609.25,143.75 609.00,143.75 608.75,143.75 608.50,143.75 608.25,143.75 608.00,143.75 607.75,143.75 607.50,143.75 607.25,143.82 607.00,143.90 606.75,143.97 606.50,144.05 606.25,144.12 606.00,144.20 605.75,144.28 605.50,144.35 605.25,144.43 605.00,144.50 604.75,144.57 604.50,144.65 604.25,144.72 604.00,144.80 603.75,144.88 603.50,144.95 603.25,145.03 603.00,145.10 602.75,145.18 602.50,145.25 602.25,145.32 602.00,145.40 601.75,145.47 601.50,145.55 601.25,145.62 601.00,145.70 600.75,145.78 600.50,145.85 600.25,145.93 600.00,146.00 599.75,146.10 599.50,146.20 599.25,146.30 599.00,146.40 598.75,146.50 598.50,146.60 598.25,146.70 598.00,146.80 597.75,146.90 597.50,147.00 597.25,147.10 597.00,147.20 596.75,147.30 596.50,147.40 596.25,147.50 596.00,147.60 595.75,147.70 595.50,147.80 595.25,147.90 595.00,148.00 594.75,148.00 594.50,147.99 594.25,147.99 594.00,147.99 593.75,147.98 593.50,147.98 593.25,147.98 593.00,147.97 592.75,147.97 592.50,147.96 592.25,147.96 592.00,147.96 591.75,147.95 591.50,147.95 591.25,147.95 591.00,147.94 590.75,147.94 590.50,147.94 590.25,147.93 590.00,147.93 589.75,147.93 589.50,147.92 589.25,147.92 589.00,147.92 588.75,147.91 588.50,147.91 588.25,147.91 588.00,147.90 587.75,147.90 587.50,147.89 587.25,147.89 587.00,147.89 586.75,147.88 586.50,147.88 586.25,147.88 586.00,147.87 585.75,147.87 585.50,147.87 585.25,147.86 585.00,147.86 584.75,147.86 584.50,147.85 584.25,147.85 584.00,147.85 583.75,147.84 583.50,147.84 583.25,147.84 583.00,147.83 582.75,147.83 582.50,147.82 582.25,147.82 582.00,147.82 581.75,147.81 581.50,147.81 581.25,147.81 581.00,147.80 580.75,147.80 580.50,147.80 580.25,147.79 580.00,147.79 579.75,147.79 579.50,147.78 579.25,147.78 579.00,147.78 578.75,147.77 578.50,147.77 578.25,147.76 578.00,147.76 577.75,147.76 577.50,147.75 577.25,147.75 577.00,147.75 576.75,147.74 576.50,147.74 576.25,147.74 576.00,147.73 575.75,147.73 575.50,147.73 575.25,147.72 575.00,147.72 574.75,147.72 574.50,147.71 574.25,147.71 574.00,147.71 573.75,147.70 573.50,147.70 573.25,147.69 573.00,147.69 572.75,147.69 572.50,147.68 572.25,147.68 572.00,147.68 571.75,147.67 571.50,147.67 571.25,147.67 571.00,147.66 570.75,147.66 570.50,147.66 570.25,147.65 570.00,147.65 569.75,147.65 569.50,147.64 569.25,147.64 569.00,147.64 568.75,147.63 568.50,147.63 568.25,147.62 568.00,147.62 567.75,147.62 567.50,147.61 567.25,147.61 567.00,147.61 566.75,147.60 566.50,147.60 566.25,147.60 566.00,147.59 565.75,147.59 565.50,147.59 565.25,147.58 565.00,147.58 564.75,147.58 564.50,147.57 564.25,147.57 564.00,147.56 563.75,147.56 563.50,147.56 563.25,147.55 563.00,147.55 562.75,147.55 562.50,147.54 562.25,147.54 562.00,147.54 561.75,147.53 561.50,147.53 561.25,147.53 561.00,147.52 560.75,147.52 560.50,147.52 560.25,147.51 560.00,147.51 559.75,147.51 559.50,147.50 559.25,147.50 559.00,147.49 558.75,147.49 558.50,147.49 558.25,147.48 558.00,147.48 557.75,147.48 557.50,147.47 557.25,147.47 557.00,147.47 556.75,147.46 556.50,147.46 556.25,147.46 556.00,147.45 555.75,147.45 555.50,147.45 555.25,147.44 555.00,147.44 554.75,147.44 554.50,147.43 554.25,147.43 554.00,147.42 553.75,147.42 553.50,147.42 553.25,147.41 553.00,147.41 552.75,147.41 552.50,147.40 552.25,147.40 552.00,147.40 551.75,147.39 551.50,147.39 551.25,147.39 551.00,147.38 550.75,147.38 550.50,147.38 550.25,147.37 550.00,147.37 549.75,147.36 549.50,147.36 549.25,147.36 549.00,147.35 548.75,147.35 548.50,147.35 548.25,147.34 548.00,147.34 547.75,147.34 547.50,147.33 547.25,147.33 547.00,147.33 546.75,147.32 546.50,147.32 546.25,147.32 546.00,147.31 545.75,147.31 545.50,147.31 545.25,147.30 545.00,147.30 544.75,147.29 544.50,147.29 544.25,147.29 544.00,147.28 543.75,147.28 543.50,147.28 543.25,147.27 543.00,147.27 542.75,147.27 542.50,147.26 542.25,147.26 542.00,147.26 541.75,147.25 541.50,147.25 541.25,147.25 541.00,147.24 540.75,147.24 540.50,147.24 540.25,147.23 540.00,147.23 539.75,147.22 539.50,147.22 539.25,147.22 539.00,147.21 538.75,147.21 538.50,147.21 538.25,147.20 538.00,147.20 537.75,147.20 537.50,147.19 537.25,147.19 537.00,147.19 536.75,147.18 536.50,147.18 536.25,147.18 536.00,147.17 535.75,147.17 535.50,147.16 535.25,147.16 535.00,147.16 534.75,147.15 534.50,147.15 534.25,147.15 534.00,147.14 533.75,147.14 533.50,147.14 533.25,147.13 533.00,147.13 532.75,147.13 532.50,147.12 532.25,147.12 532.00,147.12 531.75,147.11 531.50,147.11 531.25,147.11 531.00,147.10 530.75,147.10 530.50,147.09 530.25,147.09 530.00,147.09 529.75,147.08 529.50,147.08 529.25,147.08 529.00,147.07 528.75,147.07 528.50,147.07 528.25,147.06 528.00,147.06 527.75,147.06 527.50,147.05 527.25,147.05 527.00,147.05 526.75,147.04 526.50,147.04 526.25,147.04 526.00,147.03 525.75,147.03 525.50,147.02 525.25,147.02 525.00,147.02 524.75,147.01 524.50,147.01 524.25,147.01 524.00,147.00 523.75,147.00 523.50,146.73 523.25,146.46 523.00,146.19 522.75,145.91 522.50,145.64 522.25,145.37 522.00,145.10 521.75,144.83 521.50,144.56 521.25,144.29 521.00,144.01 520.75,143.74 520.50,143.47 520.25,143.20 520.00,142.93 519.75,142.66 519.50,142.39 519.25,142.11 519.00,141.84 518.75,141.57 518.50,141.30 518.25,141.03 518.00,140.76 517.75,140.49 517.50,140.21 517.25,139.94 517.00,139.67 516.75,139.40 516.50,139.13 516.25,138.86 516.00,138.59 515.75,138.31 515.50,138.04 515.25,137.77 515.00,137.50 514.75,137.15 514.50,136.80 514.25,136.45 514.00,136.10 513.75,135.75 513.50,135.40 513.25,135.05 513.00,134.70 512.75,134.35 512.50,134.00 512.25,133.65 512.00,133.30 511.75,132.95 511.50,132.60 511.25,132.25 511.00,131.90 510.75,131.55 510.50,131.20 510.25,130.85 510.00,130.50 509.75,130.15 509.50,129.80 509.25,129.45 509.00,129.10 508.75,128.75 508.50,128.40 508.25,128.05 508.00,127.70 507.75,127.35 507.50,127.00 507.25,127.00 507.00,127.01 506.75,127.01 506.50,127.01 506.25,127.01 506.00,127.02 505.75,127.02 505.50,127.02 505.25,127.03 505.00,127.03 504.75,127.03 504.50,127.03 504.25,127.04 504.00,127.04 503.75,127.04 503.50,127.05 503.25,127.05 503.00,127.05 502.75,127.05 502.50,127.06 502.25,127.06 502.00,127.06 501.75,127.07 501.50,127.07 501.25,127.07 501.00,127.07 500.75,127.08 500.50,127.08 500.25,127.08 500.00,127.09 499.75,127.09 499.50,127.09 499.25,127.09 499.00,127.10 498.75,127.10 498.50,127.10 498.25,127.11 498.00,127.11 497.75,127.11 497.50,127.11 497.25,127.12 497.00,127.12 496.75,127.12 496.50,127.12 496.25,127.13 496.00,127.13 495.75,127.13 495.50,127.14 495.25,127.14 495.00,127.14 494.75,127.14 494.50,127.15 494.25,127.15 494.00,127.15 493.75,127.16 493.50,127.16 493.25,127.16 493.00,127.16 492.75,127.17 492.50,127.17 492.25,127.17 492.00,127.18 491.75,127.18 491.50,127.18 491.25,127.18 491.00,127.19 490.75,127.19 490.50,127.19 490.25,127.20 490.00,127.20 489.75,127.20 489.50,127.20 489.25,127.21 489.00,127.21 488.75,127.21 488.50,127.22 488.25,127.22 488.00,127.22 487.75,127.22 487.50,127.23 487.25,127.23 487.00,127.23 486.75,127.24 486.50,127.24 486.25,127.24 486.00,127.24 485.75,127.25 485.50,127.25 485.25,127.25 485.00,127.26 484.75,127.26 484.50,127.26 484.25,127.26 484.00,127.27 483.75,127.27 483.50,127.27 483.25,127.28 483.00,127.28 482.75,127.28 482.50,127.28 482.25,127.29 482.00,127.29 481.75,127.29 481.50,127.30 481.25,127.30 481.00,127.30 480.75,127.30 480.50,127.31 480.25,127.31 480.00,127.31 479.75,127.32 479.50,127.32 479.25,127.32 479.00,127.32 478.75,127.33 478.50,127.33 478.25,127.33 478.00,127.34 477.75,127.34 477.50,127.34 477.25,127.34 477.00,127.35 476.75,127.35 476.50,127.35 476.25,127.36 476.00,127.36 475.75,127.36 475.50,127.36 475.25,127.37 475.00,127.37 474.75,127.37 474.50,127.38 474.25,127.38" fill="rgba(76,175,80,0.10)"/>
<polygon points="826.50,85.35 826.75,85.41 827.00,85.47 827.25,85.53 827.50,85.58 827.75,85.64 828.00,85.70 828.25,85.76 828.50,85.82 828.75,85.88 829.00,85.93 829.25,85.99 829.50,86.05 829.75,86.11 830.00,86.17 830.25,86.22 830.50,86.28 830.75,86.34 831.00,86.40 831.25,86.46 831.50,86.52 831.75,86.58 832.00,86.63 832.25,86.69 832.50,86.75 832.75,86.81 833.00,86.87 833.25,86.92 833.50,86.98 833.75,87.04 834.00,87.10 834.25,87.16 834.50,87.22 834.75,87.28 835.00,87.33 835.25,87.39 835.50,87.45 835.75,87.51 836.00,87.57 836.25,87.62 836.50,87.68 836.75,87.74 837.00,87.80 837.25,87.86 837.50,87.92 837.75,87.97 838.00,88.03 838.25,88.09 838.50,88.15 838.75,88.21 839.00,88.27 839.25,88.33 839.50,88.38 839.75,88.44 840.00,88.50 840.25,88.61 840.50,88.73 840.75,88.84 841.00,88.96 841.25,89.08 841.50,89.19 841.75,89.30 842.00,89.42 842.25,89.53 842.50,89.65 842.75,89.77 843.00,89.88 843.25,90.00 843.50,90.11 843.75,90.22 844.00,90.34 844.25,90.45 844.50,90.57 844.75,90.69 845.00,90.80 845.25,90.81 845.50,90.81 845.75,90.82 846.00,90.83 846.25,90.84 846.50,90.84 846.75,90.85 847.00,90.86 847.25,90.86 847.50,90.87 847.75,90.88 848.00,90.89 848.25,90.89 848.50,90.90 848.75,90.91 849.00,90.92 849.25,90.92 849.50,90.93 849.75,90.94 850.00,90.94 850.25,90.95 850.50,90.96 850.75,90.97 851.00,90.97 851.25,90.98 851.50,90.99 851.75,90.99 852.00,91.00 852.25,91.01 852.50,91.02 852.75,91.02 853.00,91.03 853.25,91.04 853.50,91.05 853.75,91.05 854.00,91.06 854.25,91.07 854.50,91.07 854.75,91.08 855.00,91.09 855.25,91.10 855.50,90.99 855.75,90.70 856.00,90.42 856.25,90.13 856.50,89.85 856.75,89.56 857.00,89.28 857.25,88.99 857.50,88.71 857.75,88.42 858.00,88.14 858.25,87.85 858.50,87.57 858.75,87.28 859.00,87.00 859.25,86.71 859.50,86.43 859.75,86.14 860.00,85.86 860.25,85.57 860.50,85.30 860.75,85.05 861.00,84.80 861.25,84.55 861.50,84.30 861.75,84.05 862.00,83.80 862.25,83.55 862.50,83.30 862.75,83.05 863.00,82.80 863.25,82.55 863.50,82.30 863.75,82.05 864.00,81.80 864.25,81.55 864.50,81.30 864.75,81.05 865.00,80.80 865.25,80.55 865.50,80.30 865.75,80.30 866.00,80.30 866.25,80.30 866.50,80.30 866.75,80.30 867.00,80.30 867.25,80.30 867.50,80.30 867.75,80.30 868.00,80.30 868.25,80.30 868.50,80.30 868.75,80.30 869.00,80.30 869.25,80.30 869.50,80.30 869.75,80.30 870.00,80.30 870.25,80.30 870.50,80.30 870.75,80.30 871.00,80.30 871.25,80.30 871.50,80.30 871.75,80.30 872.00,80.30 872.25,80.30 872.50,80.30 872.75,80.30 873.00,80.30 873.25,80.30 873.50,80.30 873.75,80.30 874.00,80.30 874.25,80.30 874.50,80.30 874.75,80.30 875.00,80.30 875.25,80.30 875.50,80.30 875.75,80.30 876.00,80.30 876.25,80.30 876.50,80.30 876.75,80.30 877.00,80.30 877.25,80.30 877.50,80.30 877.75,80.30 878.00,80.30 878.25,80.30 878.50,80.30 878.75,80.30 879.00,80.30 879.25,80.30 879.50,80.30 879.75,80.30 880.00,80.30 880.25,80.32 880.50,80.33 880.75,80.35 881.00,80.37 881.25,80.39 881.50,80.41 881.75,80.42 882.00,80.44 882.25,80.46 882.50,80.47 882.75,80.49 883.00,80.51 883.25,80.53 883.50,80.55 883.75,80.56 884.00,80.58 884.25,80.60 884.50,80.61 884.75,80.63 885.00,80.65 885.25,80.67 885.50,80.69 885.75,80.70 886.00,80.72 886.25,80.74 886.50,80.75 886.75,80.77 887.00,80.79 887.25,80.81 887.50,80.83 887.75,80.84 888.00,80.86 888.25,80.88 888.50,80.89 888.75,80.91 889.00,80.93 889.25,80.95 889.50,80.97 889.75,80.98 890.00,81.00 890.25,81.01 890.50,81.02 890.75,81.03 891.00,81.04 891.25,81.05 891.50,81.06 891.75,81.07 892.00,81.08 892.25,81.09 892.50,81.10 892.75,81.11 893.00,81.12 893.25,81.13 893.50,81.14 893.75,81.15 894.00,81.16 894.25,81.17 894.50,81.18 894.75,81.19 895.00,81.20 895.25,81.21 895.50,81.22 895.75,81.23 896.00,81.24 896.25,81.25 896.50,81.26 896.75,81.27 897.00,81.28 897.25,81.29 897.50,81.30 897.75,81.31 898.00,81.32 898.25,81.33 898.50,81.34 898.75,81.35 899.00,81.36 899.25,81.37 899.50,81.38 899.75,81.39 900.00,81.40 900.25,81.40 900.50,81.40 900.75,81.40 901.00,81.40 901.25,81.40 901.50,81.40 901.75,81.40 902.00,81.40 902.25,81.40 902.50,81.40 902.75,81.40 903.00,81.40 903.25,81.40 903.50,81.40 903.75,81.40 904.00,81.40 904.25,81.40 904.50,81.40 904.75,81.40 905.00,81.40 905.25,81.40 905.50,81.40 905.75,81.40 906.00,81.40 906.25,81.40 906.50,81.40 906.75,81.40 907.00,81.40 907.25,81.40 907.50,81.40 907.75,81.40 908.00,81.40 908.25,81.40 908.50,81.40 908.75,81.40 909.00,81.40 909.25,81.40 909.50,81.40 909.75,81.40 910.00,81.40 910.25,81.40 910.50,81.40 910.75,81.40 911.00,81.40 911.25,81.40 911.50,81.40 911.75,81.40 912.00,81.40 912.25,81.40 912.50,81.40 912.75,81.40 913.00,81.40 913.25,81.40 913.50,81.51 913.75,81.79 914.00,82.07 914.25,82.35 914.50,82.63 914.75,82.91 915.00,83.19 915.25,83.48 915.50,83.76 915.75,84.04 916.00,84.32 916.25,84.60 916.50,84.88 916.75,85.16 917.00,85.44 917.25,85.72 917.50,86.00 917.75,86.28 918.00,86.56 918.25,86.84 918.50,87.12 918.75,87.40 919.00,87.68 919.25,87.96 919.50,88.24 919.75,88.52 920.00,88.80 920.25,89.08 920.50,89.36 920.75,89.64 921.00,89.90 921.25,90.15 921.50,90.40 921.75,90.65 922.00,90.90 922.25,91.15 922.50,91.40 922.75,91.65 923.00,91.90 923.25,92.15 923.50,92.40 923.75,92.65 924.00,92.90 924.25,93.15 924.50,93.40 924.75,93.65 925.00,93.90 925.25,94.15 925.50,94.40 925.75,94.65 926.00,94.90 926.25,95.15 926.50,95.40 926.75,95.66 927.00,95.97 927.25,96.29 927.50,96.60 927.75,96.91 928.00,97.22 928.25,97.54 928.50,97.85 928.75,98.16 929.00,98.47 929.25,98.79 929.50,99.10 929.75,99.41 930.00,99.72 930.25,100.04 930.50,100.35 930.75,100.66 931.00,100.97 931.25,101.29 931.50,101.60 931.75,101.91 932.00,102.22 932.25,102.54 932.50,102.85 932.75,103.28 933.00,104.18 933.25,105.07 933.50,105.97 933.75,106.87 934.00,107.76 934.25,108.66 934.50,109.56 934.75,110.45 935.00,111.35 935.25,112.24 935.50,113.14 935.75,113.68 936.00,113.99 936.25,114.30 936.50,114.61 936.75,114.92 937.00,115.23 937.25,115.53 937.50,115.84 937.75,116.15 938.00,116.46 938.25,116.77 938.50,117.08 938.75,117.38 939.00,117.69 939.25,118.00 939.50,118.31 939.75,118.62 940.00,118.93 940.25,119.23 940.50,119.54 940.75,119.85 941.00,120.16 941.25,120.47 941.50,120.78 941.75,121.05 942.00,121.30 942.25,121.55 942.50,121.80 942.75,122.05 943.00,122.30 943.25,122.55 943.50,122.80 943.75,123.05 944.00,123.30 944.25,123.55 944.50,123.80 944.75,124.05 945.00,124.30 945.25,124.55 945.50,124.80 945.75,125.05 946.00,125.30 946.25,125.55 946.50,125.80 946.75,126.05 947.00,126.30 947.25,126.55 947.50,126.80 947.75,127.05 948.00,127.30 948.25,127.55 948.50,127.80 948.75,128.05 949.00,128.30 949.25,128.55 949.50,128.80 949.75,129.05 950.00,129.30 950.25,129.55 950.50,129.80 950.75,130.05 951.00,130.30 951.25,130.55 951.50,130.80 951.75,131.05 952.00,131.30 952.25,131.55 952.50,131.80 952.75,132.05 953.00,132.30 953.25,132.55 953.50,132.80 953.75,133.05 954.00,133.30 954.25,133.55 954.50,133.80 954.75,134.05 955.00,134.30 955.25,134.55 955.50,134.80 955.75,135.05 956.00,135.30 956.25,135.55 956.50,135.78 956.75,135.96 957.00,136.15 957.25,136.34 957.50,136.53 957.75,136.71 958.00,136.90 958.25,137.09 958.50,137.28 958.75,137.46 959.00,137.65 959.25,137.84 959.50,138.03 959.75,138.21 960.00,138.40 960.25,138.59 960.50,138.78 960.75,138.96 961.00,139.15 961.25,139.34 961.50,139.53 961.75,139.71 962.00,139.90 962.25,140.09 962.50,140.30 962.75,140.55 963.00,140.80 963.25,141.05 963.50,141.30 963.75,141.55 964.00,141.80 964.25,142.05 964.50,142.30 964.75,142.55 965.00,142.80 965.25,143.05 965.50,143.30 965.75,143.55 966.00,143.80 966.25,144.05 966.50,144.30 966.75,144.55 967.00,144.80 967.25,145.05 967.50,145.30 967.75,145.55 968.00,145.80 968.25,146.05 968.50,146.30 968.75,146.55 969.00,146.80 969.25,147.05 969.50,147.30 969.75,147.55 970.00,148.05 970.25,148.62 970.50,149.19 970.75,149.76 971.00,150.33 971.25,150.89 971.50,151.46 971.75,152.03 972.00,152.60 972.25,153.16 972.50,153.73 972.75,154.30 973.00,154.87 973.25,155.44 973.50,156.00 973.75,156.57 974.00,157.14 974.25,157.71 974.50,158.27 974.75,158.84 975.00,159.41 975.25,159.98 975.50,160.55 975.75,161.15 976.00,161.87 976.25,162.60 976.50,163.32 976.75,164.05 977.00,164.77 977.25,165.50 977.50,166.22 977.75,166.95 978.00,167.67 978.25,168.40 978.50,169.13 978.75,169.85 979.00,170.58 979.25,171.30 979.50,172.03 979.75,172.75 980.00,173.48 980.25,174.20 980.50,174.93 980.75,175.65 980.75,169.43 980.50,152.10 980.25,134.77 980.00,130.44 979.75,129.37 979.50,128.30 979.25,127.23 979.00,126.15 978.75,125.08 978.50,124.01 978.25,122.94 978.00,121.86 977.75,120.79 977.50,119.72 977.25,118.65 977.00,117.58 976.75,116.50 976.50,115.43 976.25,114.36 976.00,113.29 975.75,112.21 975.50,111.73 975.25,111.39 975.00,111.05 974.75,110.70 974.50,110.36 974.25,110.02 974.00,109.68 973.75,109.34 973.50,109.00 973.25,108.66 973.00,108.32 972.75,107.98 972.50,107.64 972.25,107.30 972.00,106.95 971.75,106.61 971.50,106.27 971.25,105.99 971.00,105.96 970.75,105.93 970.50,105.90 970.25,105.87 970.00,105.84 969.75,105.80 969.50,105.77 969.25,105.74 969.00,105.71 968.75,105.68 968.50,105.65 968.25,105.62 968.00,105.58 967.75,105.55 967.50,105.52 967.25,105.49 967.00,105.46 966.75,105.43 966.50,105.39 966.25,105.36 966.00,105.33 965.75,105.30 965.50,105.27 965.25,105.24 965.00,105.21 964.75,105.17 964.50,105.14 964.25,105.11 964.00,105.08 963.75,105.05 963.50,105.02 963.25,104.99 963.00,104.95 962.75,104.92 962.50,104.89 962.25,104.86 962.00,104.83 961.75,104.80 961.50,104.76 961.25,104.73 961.00,104.70 960.75,104.67 960.50,104.64 960.25,104.61 960.00,104.58 959.75,104.54 959.50,104.51 959.25,104.35 959.00,104.11 958.75,103.86 958.50,103.62 958.25,103.38 958.00,103.13 957.75,102.89 957.50,102.64 957.25,102.40 957.00,102.15 956.75,101.91 956.50,101.66 956.25,101.42 956.00,101.18 955.75,100.93 955.50,100.69 955.25,100.44 955.00,100.20 954.75,100.02 954.50,99.90 954.25,99.77 954.00,99.64 953.75,99.52 953.50,99.39 953.25,99.26 953.00,99.13 952.75,99.01 952.50,98.88 952.25,98.75 952.00,98.63 951.75,98.50 951.50,98.37 951.25,98.24 951.00,98.12 950.75,97.99 950.50,97.86 950.25,97.74 950.00,97.61 949.75,97.48 949.50,97.35 949.25,97.23 949.00,97.10 948.75,96.86 948.50,96.61 948.25,96.37 948.00,96.12 947.75,95.88 947.50,95.63 947.25,95.39 947.00,95.14 946.75,94.90 946.50,94.66 946.25,94.41 946.00,94.17 945.75,93.92 945.50,93.68 945.25,93.43 945.00,93.19 944.75,92.94 944.50,92.70 944.25,92.65 944.00,92.60 943.75,92.55 943.50,92.50 943.25,92.45 943.00,92.40 942.75,92.35 942.50,92.29 942.25,92.24 942.00,92.19 941.75,92.14 941.50,92.09 941.25,92.04 941.00,91.99 940.75,91.94 940.50,91.89 940.25,91.84 940.00,91.79 939.75,91.74 939.50,91.69 939.25,91.64 939.00,91.59 938.75,91.53 938.50,91.48 938.25,91.43 938.00,91.38 937.75,91.33 937.50,91.28 937.25,91.23 937.00,90.91 936.75,90.19 936.50,89.47 936.25,88.75 936.00,88.03 935.75,87.31 935.50,86.59 935.25,85.87 935.00,85.15 934.75,84.43 934.50,83.71 934.25,82.99 934.00,82.27 933.75,81.55 933.50,80.83 933.25,80.11 933.00,79.39 932.75,78.67 932.50,77.95 932.25,77.23 932.00,76.51 931.75,75.78 931.50,75.06 931.25,74.34 931.00,74.20 930.75,74.20 930.50,74.20 930.25,74.20 930.00,74.20 929.75,74.20 929.50,74.20 929.25,74.20 929.00,74.20 928.75,74.20 928.50,74.20 928.25,74.20 928.00,74.20 927.75,74.20 927.50,74.20 927.25,74.20 927.00,74.20 926.75,74.20 926.50,74.20 926.25,74.20 926.00,74.20 925.75,74.20 925.50,74.20 925.25,74.20 925.00,74.20 924.75,74.20 924.50,74.20 924.25,74.20 924.00,74.20 923.75,74.20 923.50,74.20 923.25,74.20 923.00,74.20 922.75,74.20 922.50,74.20 922.25,74.20 922.00,74.20 921.75,74.20 921.50,74.20 921.25,74.20 921.00,74.20 920.75,74.20 920.50,74.20 920.25,74.20 920.00,74.20 919.75,74.20 919.50,74.20 919.25,74.20 919.00,74.20 918.75,74.20 918.50,74.20 918.25,74.20 918.00,74.20 917.75,74.20 917.50,74.20 917.25,74.20 917.00,74.20 916.75,74.20 916.50,74.20 916.25,74.20 916.00,74.20 915.75,74.20 915.50,74.20 915.25,74.20 915.00,74.20 914.75,74.20 914.50,74.20 914.25,74.20 914.00,74.20 913.75,74.20 913.50,74.20 913.25,74.20 913.00,74.20 912.75,74.20 912.50,74.20 912.25,74.20 912.00,74.20 911.75,74.20 911.50,74.20 911.25,74.20 911.00,74.20 910.75,74.20 910.50,74.20 910.25,74.20 910.00,74.20 909.75,74.20 909.50,74.20 909.25,74.20 909.00,74.20 908.75,74.20 908.50,74.20 908.25,74.20 908.00,74.20 907.75,74.20 907.50,74.20 907.25,74.20 907.00,74.20 906.75,74.20 906.50,74.20 906.25,74.20 906.00,74.20 905.75,74.20 905.50,74.20 905.25,74.20 905.00,74.20 904.75,74.20 904.50,74.20 904.25,74.20 904.00,74.20 903.75,74.20 903.50,74.20 903.25,74.20 903.00,74.20 902.75,74.20 902.50,74.20 902.25,74.20 902.00,74.20 901.75,74.20 901.50,74.20 901.25,74.20 901.00,74.20 900.75,74.20 900.50,74.20 900.25,74.20 900.00,74.20 899.75,74.20 899.50,74.20 899.25,74.20 899.00,74.20 898.75,74.20 898.50,74.20 898.25,74.20 898.00,74.20 897.75,74.20 897.50,74.20 897.25,74.20 897.00,74.20 896.75,74.20 896.50,74.20 896.25,74.20 896.00,74.20 895.75,74.20 895.50,74.20 895.25,74.20 895.00,74.20 894.75,74.20 894.50,74.20 894.25,74.20 894.00,74.20 893.75,74.20 893.50,74.20 893.25,74.20 893.00,74.20 892.75,74.20 892.50,74.20 892.25,74.20 892.00,74.20 891.75,74.20 891.50,74.20 891.25,74.20 891.00,74.20 890.75,74.20 890.50,74.20 890.25,74.20 890.00,74.20 889.75,74.20 889.50,74.20 889.25,74.20 889.00,74.20 888.75,74.20 888.50,74.20 888.25,74.20 888.00,74.20 887.75,74.20 887.50,74.20 887.25,74.20 887.00,74.20 886.75,74.20 886.50,74.20 886.25,74.20 886.00,74.20 885.75,74.20 885.50,74.20 885.25,74.20 885.00,74.20 884.75,74.20 884.50,74.20 884.25,74.20 884.00,74.20 883.75,74.20 883.50,74.20 883.25,74.20 883.00,74.20 882.75,74.20 882.50,74.20 882.25,74.20 882.00,74.20 881.75,74.20 881.50,74.20 881.25,74.20 881.00,74.20 880.75,74.20 880.50,74.20 880.25,74.20 880.00,74.20 879.75,74.20 879.50,74.20 879.25,74.20 879.00,74.20 878.75,74.20 878.50,74.20 878.25,74.20 878.00,74.20 877.75,74.20 877.50,74.20 877.25,74.20 877.00,74.20 876.75,74.20 876.50,74.20 876.25,74.20 876.00,74.20 875.75,74.20 875.50,74.20 875.25,74.20 875.00,74.20 874.75,74.20 874.50,74.20 874.25,74.20 874.00,74.20 873.75,74.20 873.50,74.20 873.25,74.20 873.00,74.20 872.75,74.20 872.50,74.20 872.25,74.20 872.00,74.20 871.75,74.20 871.50,74.20 871.25,74.20 871.00,74.20 870.75,74.20 870.50,74.20 870.25,74.20 870.00,74.20 869.75,74.20 869.50,74.20 869.25,74.20 869.00,74.20 868.75,74.20 868.50,74.20 868.25,74.20 868.00,74.20 867.75,74.20 867.50,74.20 867.25,74.20 867.00,74.20 866.75,74.20 866.50,74.20 866.25,74.20 866.00,74.20 865.75,74.20 865.50,74.20 865.25,74.20 865.00,74.20 864.75,74.20 864.50,74.20 864.25,74.20 864.00,74.20 863.75,74.20 863.50,74.20 863.25,74.20 863.00,74.20 862.75,74.20 862.50,74.20 862.25,74.20 862.00,74.20 861.75,74.20 861.50,74.20 861.25,74.20 861.00,74.20 860.75,74.20 860.50,74.20 860.25,74.20 860.00,74.20 859.75,74.20 859.50,74.20 859.25,74.20 859.00,74.20 858.75,74.20 858.50,74.20 858.25,74.20 858.00,74.20 857.75,74.20 857.50,74.20 857.25,74.20 857.00,74.20 856.75,74.20 856.50,74.20 856.25,74.20 856.00,74.20 855.75,74.20 855.50,74.20 855.25,74.20 855.00,74.20 854.75,74.20 854.50,74.20 854.25,74.20 854.00,74.20 853.75,74.20 853.50,74.20 853.25,74.20 853.00,74.20 852.75,74.20 852.50,74.20 852.25,74.20 852.00,74.20 851.75,74.20 851.50,74.20 851.25,74.20 851.00,74.20 850.75,74.20 850.50,74.20 850.25,74.20 850.00,74.20 849.75,74.20 849.50,74.20 849.25,74.20 849.00,74.20 848.75,74.20 848.50,74.20 848.25,74.20 848.00,74.20 847.75,74.20 847.50,74.20 847.25,74.20 847.00,74.20 846.75,74.20 846.50,74.20 846.25,74.20 846.00,74.20 845.75,74.20 845.50,74.20 845.25,74.20 845.00,74.20 844.75,74.20 844.50,74.20 844.25,74.20 844.00,74.20 843.75,74.20 843.50,74.20 843.25,74.20 843.00,74.20 842.75,74.20 842.50,74.20 842.25,74.20 842.00,74.20 841.75,74.20 841.50,74.20 841.25,74.20 841.00,74.20 840.75,74.20 840.50,74.20 840.25,74.20 840.00,74.20 839.75,74.20 839.50,74.20 839.25,74.20 839.00,74.20 838.75,74.20 838.50,74.20 838.25,74.20 838.00,74.20 837.75,74.20 837.50,74.26 837.25,74.40 837.00,74.54 836.75,74.69 836.50,74.83 836.25,74.97 836.00,75.11 835.75,75.26 835.50,75.40 835.25,75.54 835.00,75.69 834.75,75.83 834.50,75.97 834.25,76.11 834.00,76.26 833.75,76.40 833.50,76.54 833.25,76.69 833.00,76.83 832.75,76.97 832.50,77.11 832.25,77.26 832.00,77.40 831.75,77.54 831.50,77.69 831.25,77.87 831.00,78.25 830.75,78.62 830.50,78.99 830.25,79.36 830.00,79.74 829.75,80.11 829.50,80.48 829.25,80.85 829.00,81.23 828.75,81.60 828.50,81.97 828.25,82.35 828.00,82.72 827.75,83.09 827.50,83.46 827.25,83.84 827.00,84.21 826.75,84.58 826.50,84.95" fill="rgba(242,54,69,0.085)"/>
<line x1="94.9" y1="-2" x2="98.9" y2="271" stroke="#c8b2a6" stroke-width="1"/>
<polyline points="99.50,271.00 105.40,273.00 110.00,276.00 128.40,277.80 131.80,281.00 140.00,291.00 143.20,296.40 145.00,300.00 147.50,330.00 148.50,236.50 150.40,210.00 152.90,205.00 160.60,200.80 170.90,195.30 181.20,194.70 191.50,193.90 196.70,192.20 206.50,191.50 208.50,185.60 211.60,178.40 214.70,179.90 217.80,185.00 224.00,187.10 229.10,189.20 235.30,189.50 239.40,193.80 243.50,199.00 246.60,204.10 247.30,204.50 252.10,93.20 256.40,93.50 259.90,95.40 264.50,100.00 269.00,102.30 285.00,104.00 300.00,108.00 306.80,113.20 313.60,123.50 318.20,129.90 322.00,134.00 327.30,147.20 331.00,148.10 345.60,148.10 353.00,151.80 360.30,158.20 367.60,163.70 375.00,167.30 380.40,164.60 387.80,159.10 396.90,155.40 405.30,151.00 415.60,155.50 420.70,155.50 425.90,153.00 431.00,150.90 438.30,149.90 442.40,147.80 445.50,139.60 448.60,133.40 453.70,129.80 471.20,129.80 475.00,126.70 478.20,121.00 484.20,115.80 493.10,113.60 499.00,115.00 505.00,117.30 520.00,117.50 530.00,121.25 537.50,125.00 543.75,132.00 567.50,132.00 575.00,125.00 583.75,117.00 595.00,117.00 600.00,111.30 605.00,110.00 612.30,107.20 615.70,100.00 620.30,88.90 624.90,83.20 632.90,79.70 639.70,76.90 644.30,74.60 648.90,72.30 653.50,70.60 660.30,70.00 667.20,65.40 674.00,60.30 680.00,56.30 688.40,54.00 696.00,49.50 711.20,48.20 720.00,45.00 726.50,41.30 730.00,40.00 736.25,42.50 742.50,38.75 752.50,36.25 767.50,37.00 776.25,41.25 783.75,52.50 790.00,53.75 795.00,62.50 801.25,77.50 810.00,78.75 820.00,83.75 825.00,85.00 840.00,88.50 845.00,90.80 855.40,91.10 860.40,85.40 865.50,80.30 880.00,80.30 890.00,81.00 900.00,81.40 913.40,81.40 920.80,89.70 926.70,95.60 932.70,103.10 935.60,113.50 941.60,120.90 949.00,128.30 956.40,135.70 962.40,140.20 969.80,147.60 975.70,161.00 980.80,175.80" fill="none" stroke="#b9d8bb" stroke-width="0.9"/>
<polyline points="99.50,235.00 113.40,236.00 116.00,237.40 147.70,237.50 150.40,241.20 207.00,241.50 212.10,246.20 252.50,247.00 265.00,258.00 280.00,258.00 287.50,275.00 325.00,275.00 340.00,292.50 345.00,295.00 390.00,295.00 396.00,330.00 402.50,330.00 405.20,128.00 406.10,127.40 472.30,127.40 507.50,127.00 515.00,137.50 523.75,147.00 595.00,148.00 600.00,146.00 607.50,143.75 612.50,143.75 620.00,132.50 625.00,125.00 630.00,125.00 635.00,115.00 645.30,104.00 653.50,98.90 661.70,94.80 667.90,92.80 678.20,91.70 682.30,92.80 690.50,91.70 700.00,87.60 720.00,86.25 826.20,85.40 831.30,77.80 837.60,74.20 840.00,74.20 931.20,74.20 937.10,91.20 944.50,92.70 949.00,97.10 954.90,100.10 959.40,104.50 971.30,106.00 975.70,112.00 980.20,131.30 980.80,172.90" fill="none" stroke="#eab0b0" stroke-width="0.9"/>
</g>
<line x1="0" y1="23.00" x2="980.5" y2="23.00" stroke="#56a058" stroke-width="1.5"/>
<line x1="0" y1="103.16" x2="980.5" y2="103.16" stroke="#56a058" stroke-width="1.5"/>
<line x1="0" y1="157.92" x2="980.5" y2="157.92" stroke="#56a058" stroke-width="1.5"/>
<line x1="0" y1="229.10" x2="980.5" y2="229.10" stroke="#cc3a52" stroke-width="1.5"/>
<line x1="0" y1="281.30" x2="980.5" y2="281.30" stroke="#cc3a52" stroke-width="1.5"/>
<line x1="0" y1="232.42" x2="980.5" y2="232.42" stroke="#a86070" stroke-width="1" stroke-dasharray="1 1"/>
<g clip-path="url(#cm)">
<polyline points="-1.00,275.30 22.00,275.30 28.30,278.20 32.20,282.60 40.00,291.90 43.90,293.80 52.70,294.30 56.60,295.30 86.90,295.30 88.40,297.20 89.00,310.00" fill="none" stroke="#a8625f" stroke-width="1"/>
<polyline points="99.80,330.00 105.30,102.80 110.40,100.40 140.00,100.00 146.80,94.20 151.80,94.20 163.50,105.90 168.50,106.40 181.80,127.60 205.20,127.60 210.20,133.40 216.90,145.10 224.00,150.00 245.00,151.00 257.50,151.25 270.90,167.40 275.00,169.00 281.20,167.40 293.50,164.30 299.70,148.80 329.20,149.00 334.70,139.00 342.00,127.60 349.30,126.10 358.50,120.60 362.10,119.70 402.40,119.70 406.00,118.40 447.00,118.00 454.50,115.80 459.00,114.30 464.90,114.00 472.30,101.00 476.80,95.70 495.00,95.00 502.50,93.00 521.60,93.20 530.50,83.00 535.50,79.80 541.90,79.20 549.50,74.10 562.50,73.75 570.00,68.75 580.00,58.75 589.40,55.00 595.80,47.00 600.90,45.70 607.20,40.60 613.60,39.40 619.90,36.80 626.20,38.10 632.60,41.90 636.40,48.90 642.80,48.90 645.30,53.30 648.90,61.40 653.50,72.90 680.00,74.00 700.00,75.80 725.70,75.80 730.90,77.90 737.10,81.00 765.00,81.50 772.00,82.00 775.20,94.90 784.40,97.40 791.25,125.00 800.00,131.25 807.50,131.25 815.00,138.75 826.25,138.75 832.50,157.50 837.50,175.00 887.50,175.00 895.40,176.30 902.10,176.30 907.80,181.30 920.10,181.30 922.20,184.50 925.30,197.90 931.40,203.60" fill="none" stroke="#a8625f" stroke-width="1"/>
<polyline points="0.00,330.00 1.50,250.00 5.00,132.50 11.25,127.50 15.00,122.50 22.50,114.50 27.50,114.50 32.50,105.00 35.00,102.50 40.00,100.00 52.50,89.50 58.75,88.75 64.50,65.50 67.50,64.50 73.75,77.50 80.00,82.50 105.00,82.50 111.70,87.50 116.70,101.70 123.40,105.90 130.00,108.40 140.00,108.70 146.80,111.70 153.40,117.60 158.40,123.40 164.30,135.10 172.50,153.75 180.00,167.50 199.80,168.10 205.40,183.00 216.70,183.50 229.10,185.10 241.40,165.00 243.75,162.50 250.30,160.20 260.60,150.90 270.90,148.80 281.20,139.60 293.50,134.40 299.70,120.00 306.80,110.90 324.00,110.90 328.50,104.60 329.20,102.30 345.60,101.40 349.30,102.30 356.60,112.40 367.60,115.10 375.00,119.70 380.40,123.40 387.80,128.00 391.40,134.40 393.30,142.60 398.80,144.50 404.20,146.30 417.30,146.70 424.00,138.10 430.30,125.40 435.40,115.20 448.10,115.20 451.90,107.60 457.00,102.50 464.40,100.10 468.20,91.90 472.10,82.40 477.10,71.60 483.50,65.90 488.60,65.20 493.60,57.60 500.00,53.80 506.30,48.20 512.70,47.60 520.30,39.40 525.40,31.70 534.30,30.50 540.60,26.00 550.00,22.20 557.50,23.75 565.00,25.00 577.50,23.75 590.00,31.25 599.60,31.70 604.70,33.60 613.60,33.60 621.20,38.10 627.50,41.90 632.60,45.70 636.40,53.30 644.30,55.70 648.90,64.90 653.50,80.30 664.90,82.00 669.50,87.70 674.00,94.00 677.20,95.80 688.50,97.90 694.70,106.10 707.20,106.20 718.50,86.10 726.80,85.60 730.90,84.10 736.00,83.50 741.20,84.10 765.00,84.10 772.00,85.00 776.20,103.10 784.40,104.10 787.50,110.00 795.00,127.50 802.50,133.75 812.50,143.75 820.00,145.00 827.50,165.00 835.00,195.00 840.00,205.00 847.50,217.50 860.00,218.00 866.25,227.50 880.00,207.20 884.10,207.20 890.30,198.40 894.40,185.60 895.40,176.30 902.10,176.30 907.80,181.30 920.10,181.30 924.20,184.50 931.40,199.00" fill="none" stroke="#7388c9" stroke-width="1"/>
</g>
<g clip-path="url(#cm)">
<rect x="-1.41" y="139.00" width="1" height="24.00" fill="#27786a"/>
<rect x="-3.21" y="141.00" width="4.6" height="20.00" fill="#089981"/>
<rect x="4.50" y="131.00" width="1" height="21.50" fill="#27786a"/>
<rect x="2.70" y="137.00" width="4.6" height="4.00" fill="#089981"/>
<rect x="10.41" y="85.00" width="1" height="67.50" fill="#27786a"/>
<rect x="8.61" y="96.00" width="4.6" height="41.50" fill="#089981"/>
<rect x="16.31" y="67.50" width="1" height="28.50" fill="#27786a"/>
<rect x="14.51" y="70.00" width="4.6" height="26.00" fill="#089981"/>
<rect x="22.21" y="54.00" width="1" height="33.50" fill="#c23a4c"/>
<rect x="20.41" y="70.50" width="4.6" height="8.50" fill="#f23645"/>
<rect x="28.12" y="57.50" width="1" height="27.50" fill="#27786a"/>
<rect x="26.32" y="68.00" width="4.6" height="11.00" fill="#089981"/>
<rect x="34.02" y="29.50" width="1" height="45.50" fill="#27786a"/>
<rect x="32.23" y="36.00" width="4.6" height="32.00" fill="#089981"/>
<rect x="39.93" y="26.00" width="1" height="48.50" fill="#c23a4c"/>
<rect x="38.13" y="36.00" width="4.6" height="24.00" fill="#f23645"/>
<rect x="45.84" y="39.00" width="1" height="28.50" fill="#27786a"/>
<rect x="44.04" y="52.50" width="4.6" height="7.50" fill="#089981"/>
<rect x="51.74" y="28.00" width="1" height="31.00" fill="#27786a"/>
<rect x="49.94" y="35.00" width="4.6" height="17.50" fill="#089981"/>
<rect x="57.65" y="25.00" width="1" height="21.00" fill="#c23a4c"/>
<rect x="55.85" y="35.00" width="4.6" height="9.50" fill="#f23645"/>
<rect x="63.55" y="37.50" width="1" height="28.50" fill="#c23a4c"/>
<rect x="61.75" y="44.00" width="4.6" height="20.00" fill="#f23645"/>
<rect x="69.45" y="62.00" width="1" height="65.50" fill="#c23a4c"/>
<rect x="67.66" y="64.00" width="4.6" height="48.50" fill="#f23645"/>
<rect x="75.36" y="102.20" width="1" height="27.80" fill="#c23a4c"/>
<rect x="73.56" y="112.40" width="4.6" height="1.00" fill="#f23645"/>
<rect x="81.27" y="92.50" width="1" height="47.50" fill="#27786a"/>
<rect x="79.47" y="92.50" width="4.6" height="20.00" fill="#089981"/>
<rect x="87.17" y="74.50" width="1" height="33.00" fill="#c23a4c"/>
<rect x="85.37" y="92.50" width="4.6" height="6.50" fill="#f23645"/>
<rect x="93.08" y="85.00" width="1" height="14.00" fill="#27786a"/>
<rect x="91.28" y="89.70" width="4.6" height="8.70" fill="#089981"/>
<rect x="98.98" y="79.50" width="1" height="20.50" fill="#c23a4c"/>
<rect x="97.18" y="89.70" width="4.6" height="7.00" fill="#f23645"/>
<rect x="104.89" y="87.50" width="1" height="9.50" fill="#27786a"/>
<rect x="103.09" y="87.50" width="4.6" height="9.20" fill="#089981"/>
<rect x="110.79" y="69.50" width="1" height="29.25" fill="#c23a4c"/>
<rect x="108.99" y="88.30" width="4.6" height="6.40" fill="#f23645"/>
<rect x="116.70" y="85.80" width="1" height="38.40" fill="#c23a4c"/>
<rect x="114.90" y="94.70" width="4.6" height="26.20" fill="#f23645"/>
<rect x="122.60" y="114.20" width="1" height="20.30" fill="#c23a4c"/>
<rect x="120.80" y="120.90" width="4.6" height="13.40" fill="#f23645"/>
<rect x="128.50" y="127.60" width="1" height="18.40" fill="#27786a"/>
<rect x="126.70" y="131.40" width="4.6" height="2.40" fill="#089981"/>
<rect x="134.41" y="120.00" width="1" height="15.00" fill="#27786a"/>
<rect x="132.61" y="128.00" width="4.6" height="3.40" fill="#089981"/>
<rect x="140.31" y="121.00" width="1" height="15.00" fill="#c23a4c"/>
<rect x="138.51" y="128.00" width="4.6" height="3.40" fill="#f23645"/>
<rect x="146.22" y="110.00" width="1" height="46.00" fill="#27786a"/>
<rect x="144.42" y="112.60" width="4.6" height="18.80" fill="#089981"/>
<rect x="152.12" y="105.90" width="1" height="58.10" fill="#c23a4c"/>
<rect x="150.32" y="112.60" width="4.6" height="43.40" fill="#f23645"/>
<rect x="158.03" y="136.20" width="1" height="39.80" fill="#c23a4c"/>
<rect x="156.23" y="156.00" width="4.6" height="13.00" fill="#f23645"/>
<rect x="163.94" y="164.50" width="1" height="23.50" fill="#27786a"/>
<rect x="162.13" y="167.00" width="4.6" height="1.00" fill="#089981"/>
<rect x="169.84" y="136.00" width="1" height="35.00" fill="#27786a"/>
<rect x="168.04" y="154.00" width="4.6" height="15.00" fill="#089981"/>
<rect x="175.75" y="154.00" width="1" height="58.00" fill="#c23a4c"/>
<rect x="173.94" y="154.00" width="4.6" height="54.75" fill="#f23645"/>
<rect x="181.65" y="182.50" width="1" height="45.50" fill="#27786a"/>
<rect x="179.85" y="188.00" width="4.6" height="21.00" fill="#089981"/>
<rect x="187.56" y="179.00" width="1" height="29.00" fill="#27786a"/>
<rect x="185.75" y="180.00" width="4.6" height="9.00" fill="#089981"/>
<rect x="193.46" y="168.00" width="1" height="22.00" fill="#c23a4c"/>
<rect x="191.66" y="180.00" width="4.6" height="2.50" fill="#f23645"/>
<rect x="199.37" y="162.50" width="1" height="22.50" fill="#c23a4c"/>
<rect x="197.56" y="181.00" width="4.6" height="3.00" fill="#f23645"/>
<rect x="205.27" y="163.00" width="1" height="21.00" fill="#27786a"/>
<rect x="203.47" y="163.00" width="4.6" height="21.00" fill="#089981"/>
<rect x="211.18" y="147.50" width="1" height="26.50" fill="#27786a"/>
<rect x="209.38" y="157.00" width="4.6" height="7.00" fill="#089981"/>
<rect x="217.08" y="145.00" width="1" height="12.50" fill="#27786a"/>
<rect x="215.28" y="146.00" width="4.6" height="11.50" fill="#089981"/>
<rect x="222.99" y="140.00" width="1" height="21.00" fill="#c23a4c"/>
<rect x="221.19" y="146.00" width="4.6" height="14.00" fill="#f23645"/>
<rect x="228.89" y="149.00" width="1" height="16.50" fill="#27786a"/>
<rect x="227.09" y="151.00" width="4.6" height="8.50" fill="#089981"/>
<rect x="234.80" y="147.50" width="1" height="10.00" fill="#c23a4c"/>
<rect x="233.00" y="151.00" width="4.6" height="4.00" fill="#f23645"/>
<rect x="240.70" y="150.00" width="1" height="12.50" fill="#27786a"/>
<rect x="238.90" y="150.00" width="4.6" height="4.50" fill="#089981"/>
<rect x="246.61" y="150.00" width="1" height="10.00" fill="#c23a4c"/>
<rect x="244.81" y="150.00" width="4.6" height="10.00" fill="#f23645"/>
<rect x="252.51" y="136.00" width="1" height="36.50" fill="#27786a"/>
<rect x="250.71" y="147.00" width="4.6" height="12.50" fill="#089981"/>
<rect x="258.42" y="129.50" width="1" height="20.50" fill="#27786a"/>
<rect x="256.62" y="136.00" width="4.6" height="11.50" fill="#089981"/>
<rect x="264.32" y="127.00" width="1" height="14.00" fill="#c23a4c"/>
<rect x="262.52" y="136.00" width="4.6" height="1.00" fill="#f23645"/>
<rect x="270.23" y="132.50" width="1" height="8.50" fill="#c23a4c"/>
<rect x="268.43" y="136.50" width="4.6" height="4.00" fill="#f23645"/>
<rect x="276.13" y="117.50" width="1" height="38.50" fill="#27786a"/>
<rect x="274.33" y="121.00" width="4.6" height="19.50" fill="#089981"/>
<rect x="282.04" y="101.00" width="1" height="20.00" fill="#27786a"/>
<rect x="280.24" y="104.60" width="4.6" height="16.40" fill="#089981"/>
<rect x="287.94" y="100.00" width="1" height="12.60" fill="#c23a4c"/>
<rect x="286.14" y="104.60" width="4.6" height="5.70" fill="#f23645"/>
<rect x="293.85" y="97.70" width="1" height="16.60" fill="#27786a"/>
<rect x="292.05" y="108.00" width="4.6" height="2.00" fill="#089981"/>
<rect x="299.75" y="67.00" width="1" height="50.80" fill="#27786a"/>
<rect x="297.95" y="80.60" width="4.6" height="27.40" fill="#089981"/>
<rect x="305.66" y="75.00" width="1" height="22.70" fill="#c23a4c"/>
<rect x="303.86" y="80.60" width="4.6" height="13.10" fill="#f23645"/>
<rect x="311.56" y="92.50" width="1" height="20.10" fill="#c23a4c"/>
<rect x="309.76" y="93.70" width="4.6" height="18.90" fill="#f23645"/>
<rect x="317.47" y="111.00" width="1" height="18.00" fill="#c23a4c"/>
<rect x="315.67" y="112.00" width="4.6" height="12.60" fill="#f23645"/>
<rect x="323.37" y="120.60" width="1" height="14.40" fill="#27786a"/>
<rect x="321.57" y="121.80" width="4.6" height="2.80" fill="#089981"/>
<rect x="329.28" y="76.00" width="1" height="56.00" fill="#27786a"/>
<rect x="327.48" y="80.60" width="4.6" height="41.20" fill="#089981"/>
<rect x="335.18" y="80.60" width="1" height="20.60" fill="#c23a4c"/>
<rect x="333.38" y="80.60" width="4.6" height="13.70" fill="#f23645"/>
<rect x="341.09" y="92.40" width="1" height="35.60" fill="#c23a4c"/>
<rect x="339.29" y="93.70" width="4.6" height="31.80" fill="#f23645"/>
<rect x="346.99" y="120.60" width="1" height="12.90" fill="#c23a4c"/>
<rect x="345.19" y="126.00" width="4.6" height="1.60" fill="#f23645"/>
<rect x="352.90" y="118.80" width="1" height="20.20" fill="#c23a4c"/>
<rect x="351.10" y="127.00" width="4.6" height="4.60" fill="#f23645"/>
<rect x="358.80" y="131.60" width="1" height="20.20" fill="#c23a4c"/>
<rect x="357.00" y="131.60" width="4.6" height="6.40" fill="#f23645"/>
<rect x="364.71" y="128.00" width="1" height="22.00" fill="#27786a"/>
<rect x="362.91" y="136.20" width="4.6" height="1.80" fill="#089981"/>
<rect x="370.61" y="133.50" width="1" height="21.90" fill="#c23a4c"/>
<rect x="368.81" y="136.20" width="4.6" height="11.00" fill="#f23645"/>
<rect x="376.52" y="146.00" width="1" height="22.30" fill="#c23a4c"/>
<rect x="374.72" y="147.20" width="4.6" height="4.60" fill="#f23645"/>
<rect x="382.42" y="142.50" width="1" height="9.50" fill="#27786a"/>
<rect x="380.62" y="145.90" width="4.6" height="5.90" fill="#089981"/>
<rect x="388.33" y="127.50" width="1" height="18.50" fill="#27786a"/>
<rect x="386.53" y="132.50" width="4.6" height="13.40" fill="#089981"/>
<rect x="394.23" y="129.50" width="1" height="13.00" fill="#c23a4c"/>
<rect x="392.43" y="132.50" width="4.6" height="7.40" fill="#f23645"/>
<rect x="400.14" y="127.50" width="1" height="18.50" fill="#27786a"/>
<rect x="398.34" y="132.50" width="4.6" height="7.50" fill="#089981"/>
<rect x="406.04" y="124.30" width="1" height="17.40" fill="#c23a4c"/>
<rect x="404.24" y="132.20" width="4.6" height="1.20" fill="#f23645"/>
<rect x="411.95" y="133.00" width="1" height="13.50" fill="#c23a4c"/>
<rect x="410.15" y="133.40" width="4.6" height="5.60" fill="#f23645"/>
<rect x="417.85" y="132.00" width="1" height="9.00" fill="#27786a"/>
<rect x="416.05" y="133.40" width="4.6" height="5.60" fill="#089981"/>
<rect x="423.76" y="113.60" width="1" height="19.80" fill="#27786a"/>
<rect x="421.96" y="117.60" width="4.6" height="15.80" fill="#089981"/>
<rect x="429.66" y="107.60" width="1" height="12.70" fill="#27786a"/>
<rect x="427.86" y="110.60" width="4.6" height="7.40" fill="#089981"/>
<rect x="435.57" y="85.00" width="1" height="25.60" fill="#27786a"/>
<rect x="433.77" y="100.20" width="4.6" height="10.40" fill="#089981"/>
<rect x="441.47" y="85.00" width="1" height="23.40" fill="#27786a"/>
<rect x="439.67" y="91.00" width="4.6" height="9.60" fill="#089981"/>
<rect x="447.38" y="86.00" width="1" height="5.00" fill="#27786a"/>
<rect x="445.58" y="86.00" width="4.6" height="5.00" fill="#089981"/>
<rect x="453.28" y="64.00" width="1" height="26.00" fill="#27786a"/>
<rect x="451.48" y="73.00" width="4.6" height="13.00" fill="#089981"/>
<rect x="459.19" y="59.00" width="1" height="15.00" fill="#27786a"/>
<rect x="457.39" y="71.00" width="4.6" height="2.00" fill="#089981"/>
<rect x="465.09" y="60.00" width="1" height="17.50" fill="#27786a"/>
<rect x="463.29" y="62.00" width="4.6" height="9.00" fill="#089981"/>
<rect x="471.00" y="37.50" width="1" height="25.00" fill="#27786a"/>
<rect x="469.20" y="47.00" width="4.6" height="15.50" fill="#089981"/>
<rect x="476.90" y="22.00" width="1" height="28.00" fill="#27786a"/>
<rect x="475.10" y="44.50" width="4.6" height="2.50" fill="#089981"/>
<rect x="482.81" y="37.50" width="1" height="12.50" fill="#c23a4c"/>
<rect x="481.01" y="44.00" width="4.6" height="4.00" fill="#f23645"/>
<rect x="488.71" y="34.00" width="1" height="15.00" fill="#27786a"/>
<rect x="486.91" y="45.00" width="4.6" height="3.00" fill="#089981"/>
<rect x="494.62" y="33.00" width="1" height="12.50" fill="#27786a"/>
<rect x="492.82" y="35.00" width="4.6" height="10.50" fill="#089981"/>
<rect x="500.52" y="18.00" width="1" height="19.50" fill="#27786a"/>
<rect x="498.72" y="24.50" width="4.6" height="10.50" fill="#089981"/>
<rect x="506.43" y="21.00" width="1" height="10.00" fill="#c23a4c"/>
<rect x="504.63" y="24.50" width="4.6" height="3.00" fill="#f23645"/>
<rect x="512.33" y="27.50" width="1" height="13.50" fill="#c23a4c"/>
<rect x="510.53" y="27.50" width="4.6" height="12.50" fill="#f23645"/>
<rect x="518.24" y="19.00" width="1" height="27.00" fill="#27786a"/>
<rect x="516.44" y="25.00" width="4.6" height="15.00" fill="#089981"/>
<rect x="524.14" y="14.50" width="1" height="20.50" fill="#c23a4c"/>
<rect x="522.34" y="25.00" width="4.6" height="5.50" fill="#f23645"/>
<rect x="530.05" y="12.50" width="1" height="22.50" fill="#c23a4c"/>
<rect x="528.25" y="30.00" width="4.6" height="3.00" fill="#f23645"/>
<rect x="535.95" y="29.50" width="1" height="14.25" fill="#c23a4c"/>
<rect x="534.15" y="32.50" width="4.6" height="2.00" fill="#f23645"/>
<rect x="541.86" y="17.00" width="1" height="28.50" fill="#27786a"/>
<rect x="540.06" y="18.00" width="4.6" height="16.50" fill="#089981"/>
<rect x="547.76" y="2.00" width="1" height="19.00" fill="#27786a"/>
<rect x="545.96" y="15.00" width="4.6" height="3.75" fill="#089981"/>
<rect x="553.67" y="15.00" width="1" height="19.50" fill="#c23a4c"/>
<rect x="551.87" y="15.00" width="4.6" height="16.25" fill="#f23645"/>
<rect x="559.57" y="23.75" width="1" height="18.25" fill="#c23a4c"/>
<rect x="557.77" y="30.50" width="4.6" height="2.00" fill="#f23645"/>
<rect x="565.48" y="17.50" width="1" height="22.50" fill="#27786a"/>
<rect x="563.68" y="28.75" width="4.6" height="3.75" fill="#089981"/>
<rect x="571.38" y="15.00" width="1" height="14.50" fill="#27786a"/>
<rect x="569.58" y="27.00" width="4.6" height="1.75" fill="#089981"/>
<rect x="577.29" y="6.25" width="1" height="37.50" fill="#c23a4c"/>
<rect x="575.49" y="27.00" width="4.6" height="3.50" fill="#f23645"/>
<rect x="583.19" y="10.00" width="1" height="30.00" fill="#27786a"/>
<rect x="581.39" y="26.25" width="4.6" height="4.25" fill="#089981"/>
<rect x="589.10" y="27.00" width="1" height="33.50" fill="#c23a4c"/>
<rect x="587.30" y="27.00" width="4.6" height="18.00" fill="#f23645"/>
<rect x="595.00" y="32.50" width="1" height="15.00" fill="#27786a"/>
<rect x="593.20" y="42.50" width="4.6" height="2.50" fill="#089981"/>
<rect x="600.91" y="30.00" width="1" height="12.50" fill="#27786a"/>
<rect x="599.11" y="30.50" width="4.6" height="12.00" fill="#089981"/>
<rect x="606.81" y="18.75" width="1" height="16.25" fill="#27786a"/>
<rect x="605.01" y="23.00" width="4.6" height="7.50" fill="#089981"/>
<rect x="612.72" y="17.00" width="1" height="20.50" fill="#c23a4c"/>
<rect x="610.92" y="23.00" width="4.6" height="11.50" fill="#f23645"/>
<rect x="618.62" y="18.75" width="1" height="50.00" fill="#c23a4c"/>
<rect x="616.82" y="34.50" width="4.6" height="18.00" fill="#f23645"/>
<rect x="624.53" y="40.30" width="1" height="33.20" fill="#c23a4c"/>
<rect x="622.73" y="52.20" width="4.6" height="16.50" fill="#f23645"/>
<rect x="630.43" y="50.60" width="1" height="26.70" fill="#27786a"/>
<rect x="628.63" y="55.10" width="4.6" height="13.60" fill="#089981"/>
<rect x="636.34" y="49.50" width="1" height="47.40" fill="#27786a"/>
<rect x="634.54" y="53.00" width="4.6" height="2.70" fill="#089981"/>
<rect x="642.24" y="50.00" width="1" height="21.20" fill="#c23a4c"/>
<rect x="640.44" y="53.00" width="4.6" height="18.20" fill="#f23645"/>
<rect x="648.15" y="71.20" width="1" height="44.20" fill="#c23a4c"/>
<rect x="646.35" y="71.20" width="4.6" height="41.10" fill="#f23645"/>
<rect x="654.05" y="103.00" width="1" height="43.25" fill="#c23a4c"/>
<rect x="652.25" y="112.30" width="4.6" height="30.70" fill="#f23645"/>
<rect x="659.96" y="118.00" width="1" height="28.25" fill="#27786a"/>
<rect x="658.16" y="118.00" width="4.6" height="25.00" fill="#089981"/>
<rect x="665.86" y="100.00" width="1" height="22.50" fill="#27786a"/>
<rect x="664.06" y="104.50" width="4.6" height="13.50" fill="#089981"/>
<rect x="671.77" y="94.80" width="1" height="11.20" fill="#27786a"/>
<rect x="669.97" y="102.00" width="4.6" height="2.50" fill="#089981"/>
<rect x="677.67" y="84.50" width="1" height="20.60" fill="#27786a"/>
<rect x="675.87" y="84.50" width="4.6" height="17.90" fill="#089981"/>
<rect x="683.58" y="68.10" width="1" height="24.70" fill="#27786a"/>
<rect x="681.78" y="80.40" width="4.6" height="4.10" fill="#089981"/>
<rect x="689.48" y="66.60" width="1" height="30.30" fill="#27786a"/>
<rect x="687.68" y="71.20" width="4.6" height="9.20" fill="#089981"/>
<rect x="695.39" y="71.20" width="1" height="18.80" fill="#c23a4c"/>
<rect x="693.59" y="71.20" width="4.6" height="15.80" fill="#f23645"/>
<rect x="701.29" y="81.25" width="1" height="13.75" fill="#27786a"/>
<rect x="699.49" y="83.75" width="4.6" height="3.25" fill="#089981"/>
<rect x="707.20" y="80.50" width="1" height="9.50" fill="#c23a4c"/>
<rect x="705.40" y="83.75" width="4.6" height="4.25" fill="#f23645"/>
<rect x="713.10" y="84.20" width="1" height="8.10" fill="#c23a4c"/>
<rect x="711.30" y="88.20" width="4.6" height="3.60" fill="#f23645"/>
<rect x="719.01" y="88.20" width="1" height="13.90" fill="#27786a"/>
<rect x="717.21" y="89.50" width="4.6" height="1.00" fill="#089981"/>
<rect x="724.91" y="85.00" width="1" height="7.50" fill="#27786a"/>
<rect x="723.11" y="87.50" width="4.6" height="3.00" fill="#089981"/>
<rect x="730.82" y="85.10" width="1" height="10.30" fill="#c23a4c"/>
<rect x="729.02" y="88.00" width="4.6" height="1.00" fill="#f23645"/>
<rect x="736.72" y="84.60" width="1" height="8.70" fill="#27786a"/>
<rect x="734.92" y="88.00" width="4.6" height="1.00" fill="#089981"/>
<rect x="742.63" y="74.80" width="1" height="13.70" fill="#27786a"/>
<rect x="740.83" y="74.80" width="4.6" height="13.70" fill="#089981"/>
<rect x="748.53" y="66.50" width="1" height="19.10" fill="#27786a"/>
<rect x="746.73" y="72.20" width="4.6" height="3.10" fill="#089981"/>
<rect x="754.44" y="68.10" width="1" height="23.20" fill="#c23a4c"/>
<rect x="752.64" y="72.20" width="4.6" height="19.10" fill="#f23645"/>
<rect x="760.34" y="89.20" width="1" height="11.30" fill="#c23a4c"/>
<rect x="758.54" y="91.30" width="4.6" height="5.10" fill="#f23645"/>
<rect x="766.25" y="76.80" width="1" height="19.60" fill="#27786a"/>
<rect x="764.45" y="78.90" width="4.6" height="17.50" fill="#089981"/>
<rect x="772.15" y="76.30" width="1" height="46.70" fill="#c23a4c"/>
<rect x="770.35" y="78.90" width="4.6" height="44.10" fill="#f23645"/>
<rect x="778.06" y="112.00" width="1" height="29.25" fill="#c23a4c"/>
<rect x="776.26" y="123.00" width="4.6" height="6.50" fill="#f23645"/>
<rect x="783.96" y="123.75" width="1" height="18.75" fill="#c23a4c"/>
<rect x="782.16" y="129.50" width="4.6" height="5.50" fill="#f23645"/>
<rect x="789.87" y="125.00" width="1" height="58.75" fill="#c23a4c"/>
<rect x="788.07" y="135.00" width="4.6" height="33.75" fill="#f23645"/>
<rect x="795.77" y="137.50" width="1" height="33.50" fill="#c23a4c"/>
<rect x="793.97" y="168.75" width="4.6" height="1.75" fill="#f23645"/>
<rect x="801.68" y="170.00" width="1" height="27.00" fill="#c23a4c"/>
<rect x="799.88" y="170.00" width="4.6" height="7.00" fill="#f23645"/>
<rect x="807.58" y="152.50" width="1" height="27.50" fill="#27786a"/>
<rect x="805.78" y="156.25" width="4.6" height="20.75" fill="#089981"/>
<rect x="813.49" y="152.50" width="1" height="58.75" fill="#c23a4c"/>
<rect x="811.69" y="156.25" width="4.6" height="50.00" fill="#f23645"/>
<rect x="819.39" y="188.75" width="1" height="22.50" fill="#27786a"/>
<rect x="817.59" y="188.75" width="4.6" height="17.50" fill="#089981"/>
<rect x="825.30" y="167.50" width="1" height="40.00" fill="#27786a"/>
<rect x="823.50" y="188.00" width="4.6" height="1.25" fill="#089981"/>
<rect x="831.20" y="188.00" width="1" height="58.25" fill="#c23a4c"/>
<rect x="829.40" y="188.00" width="4.6" height="52.00" fill="#f23645"/>
<rect x="837.11" y="213.75" width="1" height="71.25" fill="#27786a"/>
<rect x="835.31" y="223.00" width="4.6" height="17.00" fill="#089981"/>
<rect x="843.01" y="202.00" width="1" height="68.00" fill="#27786a"/>
<rect x="841.21" y="208.75" width="4.6" height="15.00" fill="#089981"/>
<rect x="848.92" y="198.75" width="1" height="15.00" fill="#27786a"/>
<rect x="847.12" y="205.00" width="4.6" height="4.50" fill="#089981"/>
<rect x="854.82" y="205.00" width="1" height="18.75" fill="#c23a4c"/>
<rect x="853.02" y="205.00" width="4.6" height="5.00" fill="#f23645"/>
<rect x="860.73" y="186.25" width="1" height="23.75" fill="#27786a"/>
<rect x="858.93" y="191.25" width="4.6" height="18.75" fill="#089981"/>
<rect x="866.63" y="171.25" width="1" height="30.00" fill="#27786a"/>
<rect x="864.83" y="171.25" width="4.6" height="20.00" fill="#089981"/>
<rect x="872.54" y="146.25" width="1" height="26.25" fill="#27786a"/>
<rect x="870.74" y="161.25" width="4.6" height="10.00" fill="#089981"/>
<rect x="878.44" y="129.50" width="1" height="46.75" fill="#27786a"/>
<rect x="876.64" y="154.50" width="4.6" height="6.75" fill="#089981"/>
<rect x="884.35" y="152.00" width="1" height="23.00" fill="#c23a4c"/>
<rect x="882.55" y="154.50" width="4.6" height="15.50" fill="#f23645"/>
<rect x="890.25" y="166.25" width="1" height="20.00" fill="#c23a4c"/>
<rect x="888.45" y="170.00" width="4.6" height="11.25" fill="#f23645"/>
<rect x="896.16" y="177.00" width="1" height="36.00" fill="#c23a4c"/>
<rect x="894.36" y="181.25" width="4.6" height="29.25" fill="#f23645"/>
<rect x="902.06" y="202.50" width="1" height="21.25" fill="#c23a4c"/>
<rect x="900.26" y="210.50" width="4.6" height="10.00" fill="#f23645"/>
<rect x="907.97" y="214.30" width="1" height="20.10" fill="#27786a"/>
<rect x="906.17" y="220.00" width="4.6" height="1.00" fill="#089981"/>
<rect x="913.87" y="209.20" width="1" height="18.80" fill="#27786a"/>
<rect x="912.07" y="213.20" width="4.6" height="7.20" fill="#089981"/>
<rect x="919.78" y="208.00" width="1" height="12.00" fill="#27786a"/>
<rect x="917.98" y="211.25" width="4.6" height="1.75" fill="#089981"/>
<rect x="925.68" y="211.10" width="1" height="31.90" fill="#c23a4c"/>
<rect x="923.88" y="211.10" width="4.6" height="21.00" fill="#f23645"/>
<rect x="931.59" y="226.60" width="1" height="19.80" fill="#c23a4c"/>
<rect x="929.79" y="231.50" width="4.6" height="1.50" fill="#f23645"/>
</g>
<line x1="0" y1="297.7" x2="1024" y2="297.7" stroke="#eceef2" stroke-width="1"/>
<line x1="0" y1="363.5" x2="1024" y2="363.5" stroke="#eceef2" stroke-width="1"/>
<g clip-path="url(#cc)">
<line x1="0" y1="336.75" x2="980.5" y2="336.75" stroke="#a3a5ad" stroke-width="1" stroke-dasharray="3.7 3.8"/>
<polyline points="0.00,312.50 5.00,312.50 20.00,308.00 31.00,306.00 40.00,305.80 53.75,305.50 63.75,304.50 70.00,321.25 75.00,322.00 82.00,313.75 87.50,318.00 93.75,321.25 100.00,320.00 107.50,320.50 111.25,322.00 117.50,328.75 125.00,332.50 135.00,343.00 140.00,342.50 147.50,338.75 153.00,347.00 157.50,348.25 164.50,347.00 170.00,350.50 176.25,355.00 182.50,342.50 188.00,335.00 193.75,336.25 199.25,347.00 205.50,343.25 212.50,343.00 217.50,340.00 223.75,343.75 230.00,338.75 241.25,328.75 247.50,332.00 250.00,330.00 258.75,327.00 264.50,333.75 270.50,327.50 276.25,317.00 282.50,318.75 288.00,320.50 293.75,305.00 300.00,311.25 306.25,323.75 311.25,325.50 317.50,323.75 323.75,322.00 329.50,315.00 336.25,320.50 342.50,322.50 348.75,324.50 355.00,325.75 360.00,325.50 365.00,323.75 371.25,326.25 377.50,326.25 382.50,324.50 388.75,321.25 395.00,327.50 400.00,328.25 406.25,326.25 411.25,325.00 417.50,327.00 423.75,322.00 430.00,317.50 436.25,318.25 442.50,320.00 448.25,325.50 455.00,322.00 461.25,319.50 466.25,317.50 470.75,314.50 477.50,320.00 483.75,323.75 490.00,324.50 496.25,325.50 500.00,325.00 506.25,327.50 512.50,326.25 518.75,326.25 525.00,328.75 531.25,333.75 536.25,334.50 541.25,332.50 547.50,336.25 553.75,336.25 560.00,339.50 566.25,341.25 572.50,345.50 577.50,344.50 583.75,347.50 589.50,349.25 595.00,348.00 601.25,344.25 607.50,340.75 612.50,343.75 618.75,348.75 624.25,352.50 630.00,348.00 636.25,344.25 642.50,345.00 648.75,350.00 654.25,354.50 660.00,353.00 666.25,348.75 672.50,347.50 678.00,345.00 684.50,343.75 690.00,339.25 696.25,338.75 702.50,337.00 708.75,337.00 715.00,337.50 720.00,337.50 725.50,339.50 731.25,336.25 737.50,330.50 743.00,324.50 748.75,325.50 755.00,336.25 760.00,333.75 766.25,318.00 772.50,315.50 778.75,327.00 783.75,332.00 790.00,337.50 795.50,352.50 801.25,348.75 807.50,347.00 813.25,357.00 820.00,348.00 826.25,347.50 831.25,357.00 837.50,342.50 842.50,335.00 848.75,333.75 855.00,332.50 860.00,330.50 866.25,327.50 872.50,326.25 878.75,327.00 884.50,328.75 890.00,328.00 896.25,331.25 902.00,333.75 908.00,328.75 914.25,323.75 920.00,324.50 925.50,327.50 932.00,320.00" fill="none" stroke="#6fae72" stroke-width="1"/>
</g>
<g clip-path="url(#cr)">
<rect x="0" y="379.5" width="980.5" height="43.75" fill="rgba(126,87,194,0.10)"/>
<line x1="0" y1="379.5" x2="980.5" y2="379.5" stroke="#8f919a" stroke-width="1" stroke-dasharray="3.7 3.8"/>
<line x1="0" y1="401.4" x2="980.5" y2="401.4" stroke="#8f919a" stroke-width="1" stroke-dasharray="3.7 3.8"/>
<line x1="0" y1="423.25" x2="980.5" y2="423.25" stroke="#8f919a" stroke-width="1" stroke-dasharray="3.7 3.8"/>
<clipPath id="cob"><rect x="0" y="364" width="980" height="15.5"/></clipPath><clipPath id="cos"><rect x="0" y="423.25" width="980" height="14"/></clipPath>
<polygon points="0.00,425.20 4.70,424.00 10.50,412.90 17.60,406.40 22.90,407.60 28.10,405.20 34.00,398.80 40.40,403.50 45.70,401.70 52.20,398.20 58.60,401.10 63.90,404.60 69.70,413.40 75.00,413.40 82.00,408.20 87.30,409.30 93.80,407.30 99.60,408.20 105.50,406.40 110.70,407.60 115.40,412.90 120.00,414.60 123.75,416.00 130.00,414.75 136.25,414.00 141.25,414.50 147.00,408.50 152.50,417.00 158.75,419.00 164.50,419.00 170.50,415.25 176.25,423.50 182.50,417.25 188.75,415.50 195.00,415.75 200.00,415.75 206.25,409.00 212.00,406.50 217.50,403.50 223.25,407.00 229.50,404.50 235.50,405.25 241.25,404.00 247.50,406.50 250.00,404.50 258.75,398.50 265.00,399.00 270.00,401.00 276.25,392.75 282.00,389.00 288.75,391.50 294.50,390.25 300.00,383.50 306.25,389.50 312.50,397.00 318.00,400.25 323.75,399.50 329.50,388.50 336.25,392.75 341.25,402.00 348.75,402.75 353.75,403.50 360.00,405.25 366.25,405.25 371.25,407.75 376.25,410.25 382.50,407.00 388.75,402.00 394.50,405.25 400.00,402.25 406.25,402.00 412.50,404.00 417.50,402.00 423.75,395.25 430.00,392.75 436.25,389.50 442.50,386.50 448.75,385.25 455.00,381.50 461.25,381.00 467.00,379.00 472.50,374.50 477.50,374.00 483.75,376.00 490.00,375.25 496.25,372.75 501.25,371.00 506.25,372.75 512.50,381.00 518.75,377.75 525.00,380.25 536.25,382.75 542.50,377.75 548.00,377.75 553.75,388.25 560.00,388.25 570.00,387.00 576.25,388.25 582.50,387.75 589.50,399.00 595.00,397.75 601.25,391.50 607.50,389.00 613.75,395.25 619.50,404.00 625.00,411.50 630.50,405.25 636.25,404.50 642.50,412.75 648.75,424.00 654.25,428.50 660.00,419.00 666.25,412.75 672.00,411.50 678.00,405.25 684.50,403.50 690.00,401.50 696.25,406.00 702.50,405.25 708.75,406.50 715.00,407.25 721.25,406.50 728.75,406.50 736.25,406.00 742.50,399.50 748.50,398.50 754.50,406.50 760.50,408.50 766.25,401.50 772.50,415.75 778.75,417.25 784.50,419.00 790.00,425.25 795.50,426.00 802.00,427.00 808.00,417.25 813.75,426.00 820.00,420.25 826.25,420.75 831.25,427.75 837.50,422.00 843.75,417.00 850.00,416.50 855.00,416.50 861.25,409.00 867.50,404.50 872.50,402.75 878.00,400.75 884.50,404.00 890.00,407.75 896.25,414.50 902.50,416.50 908.00,416.00 913.75,413.50 920.00,412.00 926.25,417.00 932.00,417.75 932.00,379.50 0.00,379.50" fill="rgba(60,170,140,0.12)" clip-path="url(#cob)"/>
<polygon points="0.00,425.20 4.70,424.00 10.50,412.90 17.60,406.40 22.90,407.60 28.10,405.20 34.00,398.80 40.40,403.50 45.70,401.70 52.20,398.20 58.60,401.10 63.90,404.60 69.70,413.40 75.00,413.40 82.00,408.20 87.30,409.30 93.80,407.30 99.60,408.20 105.50,406.40 110.70,407.60 115.40,412.90 120.00,414.60 123.75,416.00 130.00,414.75 136.25,414.00 141.25,414.50 147.00,408.50 152.50,417.00 158.75,419.00 164.50,419.00 170.50,415.25 176.25,423.50 182.50,417.25 188.75,415.50 195.00,415.75 200.00,415.75 206.25,409.00 212.00,406.50 217.50,403.50 223.25,407.00 229.50,404.50 235.50,405.25 241.25,404.00 247.50,406.50 250.00,404.50 258.75,398.50 265.00,399.00 270.00,401.00 276.25,392.75 282.00,389.00 288.75,391.50 294.50,390.25 300.00,383.50 306.25,389.50 312.50,397.00 318.00,400.25 323.75,399.50 329.50,388.50 336.25,392.75 341.25,402.00 348.75,402.75 353.75,403.50 360.00,405.25 366.25,405.25 371.25,407.75 376.25,410.25 382.50,407.00 388.75,402.00 394.50,405.25 400.00,402.25 406.25,402.00 412.50,404.00 417.50,402.00 423.75,395.25 430.00,392.75 436.25,389.50 442.50,386.50 448.75,385.25 455.00,381.50 461.25,381.00 467.00,379.00 472.50,374.50 477.50,374.00 483.75,376.00 490.00,375.25 496.25,372.75 501.25,371.00 506.25,372.75 512.50,381.00 518.75,377.75 525.00,380.25 536.25,382.75 542.50,377.75 548.00,377.75 553.75,388.25 560.00,388.25 570.00,387.00 576.25,388.25 582.50,387.75 589.50,399.00 595.00,397.75 601.25,391.50 607.50,389.00 613.75,395.25 619.50,404.00 625.00,411.50 630.50,405.25 636.25,404.50 642.50,412.75 648.75,424.00 654.25,428.50 660.00,419.00 666.25,412.75 672.00,411.50 678.00,405.25 684.50,403.50 690.00,401.50 696.25,406.00 702.50,405.25 708.75,406.50 715.00,407.25 721.25,406.50 728.75,406.50 736.25,406.00 742.50,399.50 748.50,398.50 754.50,406.50 760.50,408.50 766.25,401.50 772.50,415.75 778.75,417.25 784.50,419.00 790.00,425.25 795.50,426.00 802.00,427.00 808.00,417.25 813.75,426.00 820.00,420.25 826.25,420.75 831.25,427.75 837.50,422.00 843.75,417.00 850.00,416.50 855.00,416.50 861.25,409.00 867.50,404.50 872.50,402.75 878.00,400.75 884.50,404.00 890.00,407.75 896.25,414.50 902.50,416.50 908.00,416.00 913.75,413.50 920.00,412.00 926.25,417.00 932.00,417.75 932.00,423.25 0.00,423.25" fill="rgba(242,54,69,0.08)" clip-path="url(#cos)"/>
<polyline points="0.00,427.50 11.70,427.30 23.40,425.20 30.50,421.60 38.70,418.10 46.90,415.20 56.30,412.30 65.60,409.30 75.00,407.00 84.40,405.80 93.80,405.20 103.10,405.20 111.30,406.20 120.00,407.50 135.00,409.50 150.00,411.00 170.00,412.75 185.00,414.75 200.00,415.25 215.00,414.00 230.00,412.75 245.00,411.00 256.00,409.00 265.00,406.50 280.00,402.00 295.00,398.50 310.00,396.00 325.00,394.50 340.00,394.00 355.00,394.50 367.50,396.50 380.00,399.50 392.50,401.50 405.00,402.75 420.00,404.00 435.00,402.75 445.00,400.25 457.50,396.00 470.00,391.50 482.50,387.00 495.00,382.75 506.00,379.00 512.50,377.75 530.00,377.75 550.00,378.50 570.00,380.25 587.50,383.50 605.00,387.75 625.00,392.75 642.50,397.75 657.50,402.75 672.50,407.00 687.50,409.50 705.00,410.25 725.00,410.25 737.50,407.75 750.00,404.00 760.00,404.50 772.50,406.00 790.00,409.00 807.50,412.00 825.00,416.00 840.00,419.50 852.50,421.00 865.00,420.25 877.50,417.00 890.00,414.00 902.50,412.25 915.00,411.00 925.00,409.50 932.00,411.00" fill="none" stroke="#f1e0a2" stroke-width="1.6"/>
<polyline points="0.00,425.20 4.70,424.00 10.50,412.90 17.60,406.40 22.90,407.60 28.10,405.20 34.00,398.80 40.40,403.50 45.70,401.70 52.20,398.20 58.60,401.10 63.90,404.60 69.70,413.40 75.00,413.40 82.00,408.20 87.30,409.30 93.80,407.30 99.60,408.20 105.50,406.40 110.70,407.60 115.40,412.90 120.00,414.60 123.75,416.00 130.00,414.75 136.25,414.00 141.25,414.50 147.00,408.50 152.50,417.00 158.75,419.00 164.50,419.00 170.50,415.25 176.25,423.50 182.50,417.25 188.75,415.50 195.00,415.75 200.00,415.75 206.25,409.00 212.00,406.50 217.50,403.50 223.25,407.00 229.50,404.50 235.50,405.25 241.25,404.00 247.50,406.50 250.00,404.50 258.75,398.50 265.00,399.00 270.00,401.00 276.25,392.75 282.00,389.00 288.75,391.50 294.50,390.25 300.00,383.50 306.25,389.50 312.50,397.00 318.00,400.25 323.75,399.50 329.50,388.50 336.25,392.75 341.25,402.00 348.75,402.75 353.75,403.50 360.00,405.25 366.25,405.25 371.25,407.75 376.25,410.25 382.50,407.00 388.75,402.00 394.50,405.25 400.00,402.25 406.25,402.00 412.50,404.00 417.50,402.00 423.75,395.25 430.00,392.75 436.25,389.50 442.50,386.50 448.75,385.25 455.00,381.50 461.25,381.00 467.00,379.00 472.50,374.50 477.50,374.00 483.75,376.00 490.00,375.25 496.25,372.75 501.25,371.00 506.25,372.75 512.50,381.00 518.75,377.75 525.00,380.25 536.25,382.75 542.50,377.75 548.00,377.75 553.75,388.25 560.00,388.25 570.00,387.00 576.25,388.25 582.50,387.75 589.50,399.00 595.00,397.75 601.25,391.50 607.50,389.00 613.75,395.25 619.50,404.00 625.00,411.50 630.50,405.25 636.25,404.50 642.50,412.75 648.75,424.00 654.25,428.50 660.00,419.00 666.25,412.75 672.00,411.50 678.00,405.25 684.50,403.50 690.00,401.50 696.25,406.00 702.50,405.25 708.75,406.50 715.00,407.25 721.25,406.50 728.75,406.50 736.25,406.00 742.50,399.50 748.50,398.50 754.50,406.50 760.50,408.50 766.25,401.50 772.50,415.75 778.75,417.25 784.50,419.00 790.00,425.25 795.50,426.00 802.00,427.00 808.00,417.25 813.75,426.00 820.00,420.25 826.25,420.75 831.25,427.75 837.50,422.00 843.75,417.00 850.00,416.50 855.00,416.50 861.25,409.00 867.50,404.50 872.50,402.75 878.00,400.75 884.50,404.00 890.00,407.75 896.25,414.50 902.50,416.50 908.00,416.00 913.75,413.50 920.00,412.00 926.25,417.00 932.00,417.75" fill="none" stroke="#8a7fc0" stroke-width="1"/>
</g>
<text x="987.2" y="3.55" font-family="Liberation Sans, sans-serif" font-size="8.8" fill="#131722" stroke="#131722" stroke-width="0.25" text-anchor="start" textLength="23.8" lengthAdjust="spacingAndGlyphs">2,7000</text>
<text x="987.2" y="48.51" font-family="Liberation Sans, sans-serif" font-size="8.8" fill="#131722" stroke="#131722" stroke-width="0.25" text-anchor="start" textLength="23.8" lengthAdjust="spacingAndGlyphs">2,6000</text>
<text x="987.2" y="70.99" font-family="Liberation Sans, sans-serif" font-size="8.8" fill="#131722" stroke="#131722" stroke-width="0.25" text-anchor="start" textLength="23.8" lengthAdjust="spacingAndGlyphs">2,5500</text>
<text x="987.2" y="93.47" font-family="Liberation Sans, sans-serif" font-size="8.8" fill="#131722" stroke="#131722" stroke-width="0.25" text-anchor="start" textLength="23.8" lengthAdjust="spacingAndGlyphs">2,5000</text>
<text x="987.2" y="115.95" font-family="Liberation Sans, sans-serif" font-size="8.8" fill="#131722" stroke="#131722" stroke-width="0.25" text-anchor="start" textLength="23.8" lengthAdjust="spacingAndGlyphs">2,4500</text>
<text x="987.2" y="138.43" font-family="Liberation Sans, sans-serif" font-size="8.8" fill="#131722" stroke="#131722" stroke-width="0.25" text-anchor="start" textLength="23.8" lengthAdjust="spacingAndGlyphs">2,4000</text>
<text x="987.2" y="183.39" font-family="Liberation Sans, sans-serif" font-size="8.8" fill="#131722" stroke="#131722" stroke-width="0.25" text-anchor="start" textLength="23.8" lengthAdjust="spacingAndGlyphs">2,3000</text>
<text x="987.2" y="205.87" font-family="Liberation Sans, sans-serif" font-size="8.8" fill="#131722" stroke="#131722" stroke-width="0.25" text-anchor="start" textLength="23.8" lengthAdjust="spacingAndGlyphs">2,2500</text>
<text x="987.2" y="228.35" font-family="Liberation Sans, sans-serif" font-size="8.8" fill="#131722" stroke="#131722" stroke-width="0.25" text-anchor="start" textLength="23.8" lengthAdjust="spacingAndGlyphs">2,2000</text>
<text x="987.2" y="250.83" font-family="Liberation Sans, sans-serif" font-size="8.8" fill="#131722" stroke="#131722" stroke-width="0.25" text-anchor="start" textLength="23.8" lengthAdjust="spacingAndGlyphs">2,1500</text>
<text x="987.2" y="273.31" font-family="Liberation Sans, sans-serif" font-size="8.8" fill="#131722" stroke="#131722" stroke-width="0.25" text-anchor="start" textLength="23.8" lengthAdjust="spacingAndGlyphs">2,1000</text>
<text x="987.2" y="295.79" font-family="Liberation Sans, sans-serif" font-size="8.8" fill="#131722" stroke="#131722" stroke-width="0.25" text-anchor="start" textLength="23.8" lengthAdjust="spacingAndGlyphs">2,0500</text>
<rect x="981.8" y="17.80" width="33.10" height="11.00" fill="#4caf50"/>
<text x="987.3" y="26.00" font-family="Liberation Sans, sans-serif" font-size="8.8" fill="#fff" stroke="#fff" stroke-width="0.25" text-anchor="start" textLength="23.8" lengthAdjust="spacingAndGlyphs">2,6513</text>
<rect x="981.8" y="97.96" width="33.10" height="11.00" fill="#4caf50"/>
<text x="987.3" y="106.16" font-family="Liberation Sans, sans-serif" font-size="8.8" fill="#fff" stroke="#fff" stroke-width="0.25" text-anchor="start" textLength="23.8" lengthAdjust="spacingAndGlyphs">2,4730</text>
<rect x="981.8" y="152.72" width="33.10" height="11.00" fill="#4caf50"/>
<text x="987.3" y="160.92" font-family="Liberation Sans, sans-serif" font-size="8.8" fill="#fff" stroke="#fff" stroke-width="0.25" text-anchor="start" textLength="23.8" lengthAdjust="spacingAndGlyphs">2,3512</text>
<rect x="981.8" y="215.30" width="32.50" height="12.10" fill="#e3304b"/>
<text x="987.3" y="223.7" font-family="Liberation Sans, sans-serif" font-size="8.8" fill="#fff" stroke="#fff" stroke-width="0.25" text-anchor="start" textLength="23.8" lengthAdjust="spacingAndGlyphs">2,1929</text>
<rect x="981.8" y="227.00" width="40.40" height="20.20" fill="#e3304b"/>
<text x="987.3" y="234.7" font-family="Liberation Sans, sans-serif" font-size="8.8" fill="#fff" stroke="#fff" stroke-width="0.25" text-anchor="start" textLength="23.8" lengthAdjust="spacingAndGlyphs">2,1855</text>
<text x="987.3" y="244.5" font-family="Liberation Sans, sans-serif" font-size="8.8" fill="#fff" stroke="#fff" stroke-width="0.25" text-anchor="start" textLength="31" lengthAdjust="spacingAndGlyphs">01:54:37</text>
<rect x="981.8" y="276.10" width="33.00" height="10.60" fill="#e3304b"/>
<text x="987.3" y="284.30" font-family="Liberation Sans, sans-serif" font-size="8.8" fill="#fff" stroke="#fff" stroke-width="0.25" text-anchor="start" textLength="23.8" lengthAdjust="spacingAndGlyphs">2,0768</text>
<text x="986.7" y="318.5" font-family="Liberation Sans, sans-serif" font-size="8.8" fill="#131722" stroke="#131722" stroke-width="0.25" text-anchor="start" textLength="16" lengthAdjust="spacingAndGlyphs">0,20</text>
<text x="986.7" y="358.6" font-family="Liberation Sans, sans-serif" font-size="8.8" fill="#131722" stroke="#131722" stroke-width="0.25" text-anchor="start" textLength="20" lengthAdjust="spacingAndGlyphs">−0,20</text>
<text x="986.7" y="370.7" font-family="Liberation Sans, sans-serif" font-size="8.8" fill="#131722" stroke="#131722" stroke-width="0.25" text-anchor="start" textLength="20" lengthAdjust="spacingAndGlyphs">80,00</text>
<text x="986.7" y="392.5" font-family="Liberation Sans, sans-serif" font-size="8.8" fill="#131722" stroke="#131722" stroke-width="0.25" text-anchor="start" textLength="20" lengthAdjust="spacingAndGlyphs">60,00</text>
<text x="986.7" y="414.5" font-family="Liberation Sans, sans-serif" font-size="8.8" fill="#131722" stroke="#131722" stroke-width="0.25" text-anchor="start" textLength="20" lengthAdjust="spacingAndGlyphs">40,00</text>
<rect x="3" y="304" width="28.4" height="10" fill="#fff"/><rect x="36" y="304" width="18.4" height="10" fill="#fff"/>
<text x="3.8" y="312.6" font-family="Liberation Sans, sans-serif" font-size="9.6" fill="#2a2e39" stroke="#2a2e39" stroke-width="0.3" textLength="16.40" lengthAdjust="spacingAndGlyphs">CMF</text>
<text x="22.0" y="312.6" font-family="Liberation Sans, sans-serif" font-size="9.6" fill="#5d606b" stroke="#5d606b" stroke-width="0.3" textLength="8.80" lengthAdjust="spacingAndGlyphs">20</text>
<text x="36.6" y="312.6" font-family="Liberation Sans, sans-serif" font-size="9.6" fill="#5fa862" stroke="#5fa862" stroke-width="0.3" textLength="17.00" lengthAdjust="spacingAndGlyphs">0,16</text>
<text x="3.8" y="378.0" font-family="Liberation Sans, sans-serif" font-size="9.6" fill="#2a2e39" stroke="#2a2e39" stroke-width="0.3" textLength="11.20" lengthAdjust="spacingAndGlyphs">RSI</text>
<text x="18.3" y="378.0" font-family="Liberation Sans, sans-serif" font-size="9.6" fill="#6a6d78" stroke="#6a6d78" stroke-width="0.3" textLength="8.00" lengthAdjust="spacingAndGlyphs">14</text>
<text x="29.5" y="378.0" font-family="Liberation Sans, sans-serif" font-size="9.6" fill="#6a6d78" stroke="#6a6d78" stroke-width="0.3" textLength="19.90" lengthAdjust="spacingAndGlyphs">close</text>
<text x="55.9" y="378.0" font-family="Liberation Sans, sans-serif" font-size="9.6" fill="#8478b8" stroke="#8478b8" stroke-width="0.3" textLength="20.40" lengthAdjust="spacingAndGlyphs">35,12</text>
<text x="81.1" y="378.0" font-family="Liberation Sans, sans-serif" font-size="9.6" fill="#e8d25a" stroke="#e8d25a" stroke-width="0.3" textLength="22.50" lengthAdjust="spacingAndGlyphs">41,15</text>
<g fill="#131722"><path d="M5,415 H14 V425.5 H10 V419 H5 Z"/><circle cx="16.3" cy="417" r="2"/><path d="M19.5,415 H26 L21.5,425.5 H17 Z"/></g>
</svg></body></html>
